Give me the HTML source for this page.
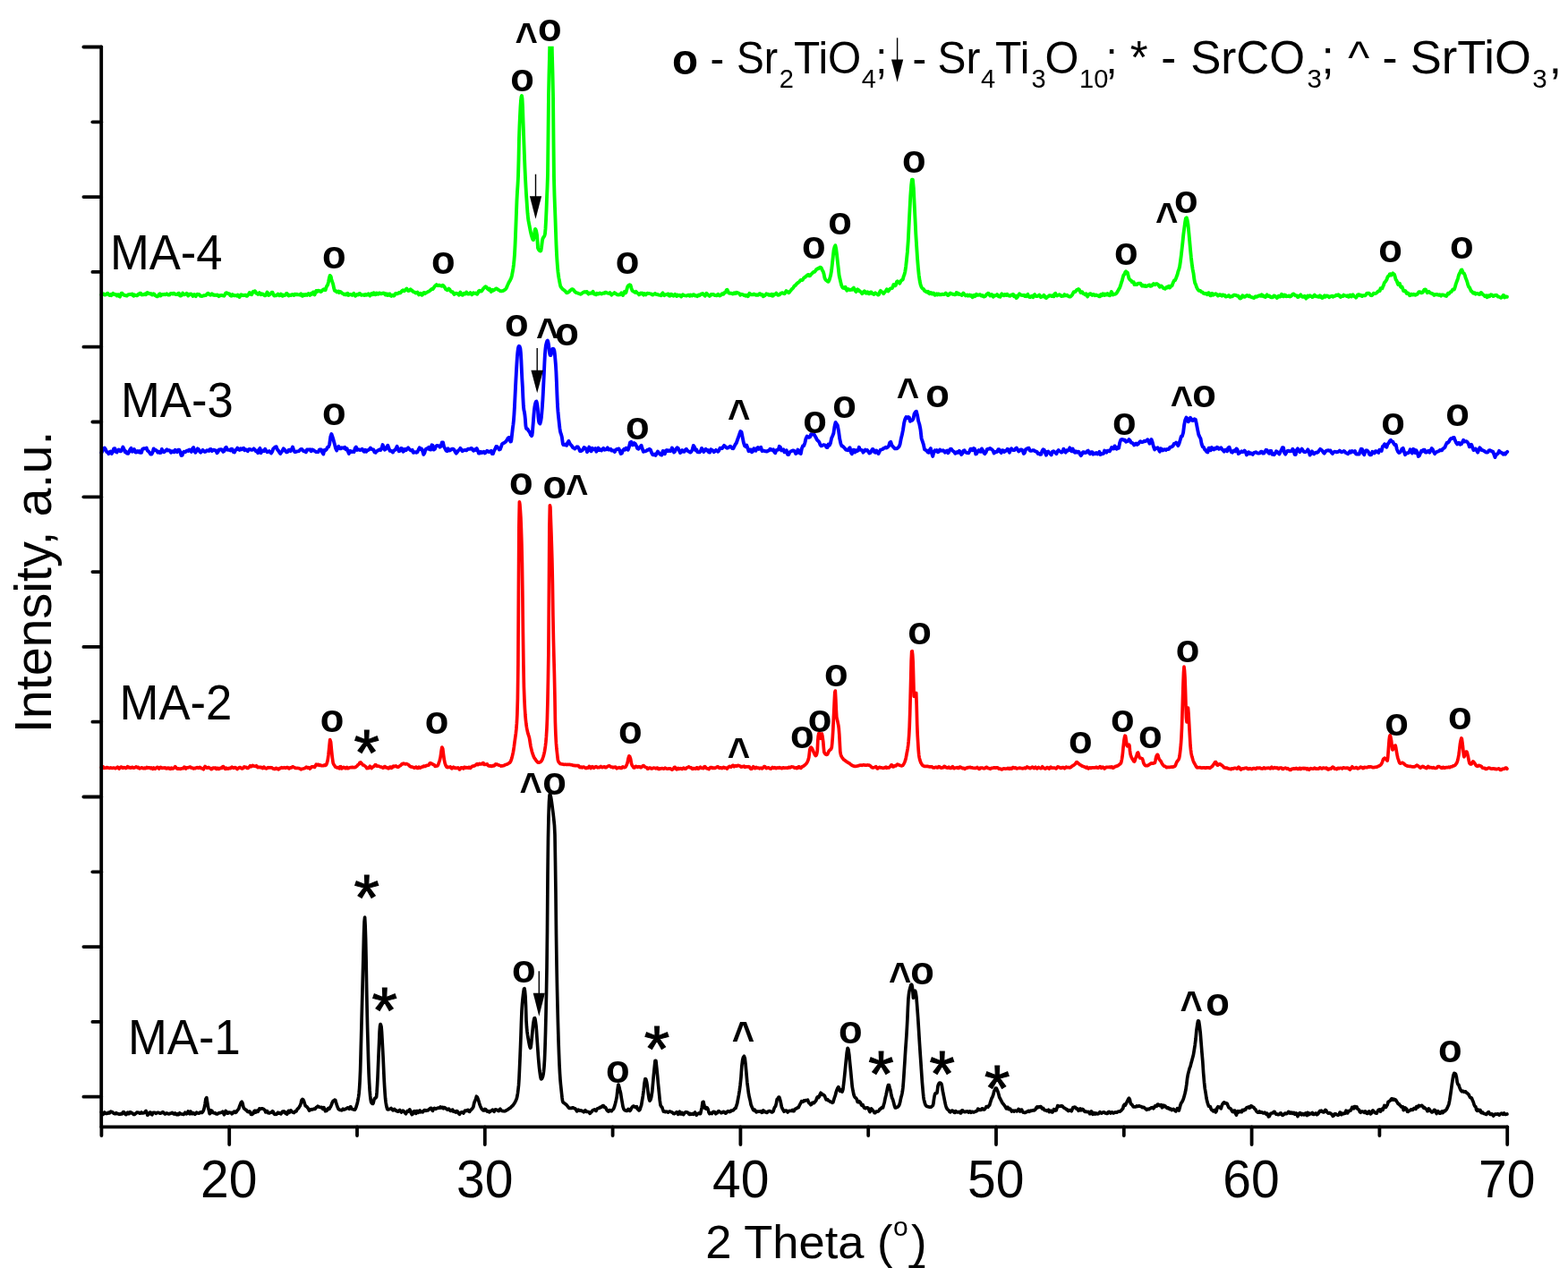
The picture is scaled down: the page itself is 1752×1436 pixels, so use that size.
<!DOCTYPE html>
<html lang="en"><head><meta charset="utf-8"><title>XRD patterns MA-1 to MA-4</title>
<style>html,body{margin:0;padding:0;background:#fff}body{width:1752px;height:1436px;overflow:hidden}svg{display:block}text{font-family:"Liberation Sans",sans-serif;fill:#000}</style></head>
<body>
<svg width="1752" height="1436" viewBox="0 0 1752 1436">
<rect width="1752" height="1436" fill="#fff"/>
<defs><clipPath id="plotclip"><rect x="100" y="51.7" width="1600" height="1300"/></clipPath></defs>
<path d="M113.4,1242.8 L114.3,1244.1 L115.1,1245.4 L116.0,1244.1 L116.8,1243.0 L117.7,1243.5 L118.5,1244.4 L119.4,1244.3 L120.3,1244.2 L121.1,1243.3 L122.0,1244.0 L122.8,1243.6 L123.7,1242.1 L124.5,1242.6 L125.4,1242.6 L126.3,1243.5 L127.1,1244.3 L128.0,1244.6 L128.8,1244.7 L129.7,1243.7 L130.5,1244.1 L131.4,1244.7 L132.2,1244.6 L133.1,1245.1 L134.0,1245.2 L134.8,1244.6 L135.7,1245.0 L136.5,1244.7 L137.4,1242.9 L138.2,1242.6 L139.1,1244.0 L140.0,1245.2 L140.8,1245.6 L141.7,1243.8 L142.5,1243.2 L143.4,1244.7 L144.2,1244.7 L145.1,1242.8 L146.0,1242.9 L146.8,1244.0 L147.7,1243.8 L148.5,1244.4 L149.4,1245.4 L150.2,1245.5 L151.1,1244.7 L152.0,1244.0 L152.8,1243.2 L153.7,1243.1 L154.5,1243.5 L155.4,1243.4 L156.2,1244.2 L157.1,1243.9 L158.0,1243.0 L158.8,1244.0 L159.7,1244.0 L160.5,1243.8 L161.4,1243.3 L162.2,1242.3 L163.1,1241.5 L164.0,1243.5 L164.8,1246.2 L165.7,1245.5 L166.5,1244.3 L167.4,1243.2 L168.2,1243.1 L169.1,1245.2 L169.9,1245.7 L170.8,1243.6 L171.7,1243.3 L172.5,1243.3 L173.4,1243.6 L174.2,1244.3 L175.1,1243.9 L175.9,1243.3 L176.8,1243.3 L177.7,1243.5 L178.5,1244.1 L179.4,1244.2 L180.2,1243.7 L181.1,1243.3 L181.9,1242.6 L182.8,1243.3 L183.7,1244.4 L184.5,1245.0 L185.4,1244.5 L186.2,1243.9 L187.1,1244.5 L187.9,1244.6 L188.8,1244.9 L189.7,1244.4 L190.5,1244.3 L191.4,1244.0 L192.2,1243.3 L193.1,1243.8 L193.9,1244.8 L194.8,1245.1 L195.7,1243.9 L196.5,1244.8 L197.4,1245.6 L198.2,1244.8 L199.1,1245.7 L199.9,1245.5 L200.8,1243.8 L201.7,1244.6 L202.5,1244.9 L203.4,1245.0 L204.2,1245.2 L205.1,1245.4 L205.9,1244.6 L206.8,1243.3 L207.6,1244.0 L208.5,1244.8 L209.4,1243.9 L210.2,1241.9 L211.1,1244.2 L211.9,1244.7 L212.8,1242.1 L213.6,1242.7 L214.5,1244.7 L215.4,1244.4 L216.2,1243.7 L217.1,1244.7 L217.9,1245.3 L218.8,1244.4 L219.6,1243.1 L220.5,1243.8 L221.4,1243.8 L222.2,1244.2 L223.1,1243.7 L223.9,1242.9 L224.8,1243.5 L225.6,1243.5 L226.5,1242.5 L227.4,1240.9 L228.2,1238.4 L229.1,1233.8 L229.9,1228.2 L230.8,1226.6 L231.6,1231.5 L232.5,1237.2 L233.4,1240.9 L234.2,1244.6 L235.1,1244.0 L235.9,1241.0 L236.8,1241.4 L237.6,1243.1 L238.5,1243.6 L239.3,1243.8 L240.2,1243.7 L241.1,1244.5 L241.9,1244.9 L242.8,1244.9 L243.6,1244.3 L244.5,1243.9 L245.3,1243.6 L246.2,1243.6 L247.1,1243.3 L247.9,1243.1 L248.8,1242.2 L249.6,1243.8 L250.5,1245.7 L251.3,1243.9 L252.2,1241.5 L253.1,1242.3 L253.9,1244.1 L254.8,1244.2 L255.6,1243.1 L256.5,1243.2 L257.3,1243.5 L258.2,1243.4 L259.1,1244.8 L259.9,1244.1 L260.8,1242.8 L261.6,1242.0 L262.5,1242.2 L263.3,1243.3 L264.2,1242.5 L265.1,1241.1 L265.9,1240.2 L266.8,1239.0 L267.6,1236.4 L268.5,1234.1 L269.3,1232.1 L270.2,1231.2 L271.1,1233.1 L271.9,1237.0 L272.8,1238.9 L273.6,1239.3 L274.5,1240.3 L275.3,1240.6 L276.2,1241.9 L277.0,1242.4 L277.9,1242.6 L278.8,1242.0 L279.6,1242.6 L280.5,1245.3 L281.3,1245.5 L282.2,1244.7 L283.0,1244.4 L283.9,1242.0 L284.8,1241.2 L285.6,1243.2 L286.5,1242.0 L287.3,1241.1 L288.2,1242.3 L289.0,1240.8 L289.9,1238.9 L290.8,1239.5 L291.6,1239.0 L292.5,1238.8 L293.3,1238.9 L294.2,1239.2 L295.0,1239.8 L295.9,1240.6 L296.8,1242.9 L297.6,1241.6 L298.5,1241.5 L299.3,1243.6 L300.2,1243.8 L301.0,1243.9 L301.9,1243.3 L302.8,1243.2 L303.6,1243.0 L304.5,1241.8 L305.3,1242.5 L306.2,1244.7 L307.0,1245.4 L307.9,1245.0 L308.8,1245.3 L309.6,1244.2 L310.5,1243.3 L311.3,1244.1 L312.2,1243.7 L313.0,1244.4 L313.9,1244.8 L314.7,1243.3 L315.6,1242.2 L316.5,1242.9 L317.3,1241.9 L318.2,1242.7 L319.0,1244.2 L319.9,1243.3 L320.7,1245.1 L321.6,1243.5 L322.5,1241.3 L323.3,1243.3 L324.2,1242.1 L325.0,1240.9 L325.9,1242.1 L326.7,1242.8 L327.6,1242.9 L328.5,1243.5 L329.3,1242.7 L330.2,1241.6 L331.0,1241.8 L331.9,1240.0 L332.7,1239.0 L333.6,1238.4 L334.5,1236.8 L335.3,1235.6 L336.2,1233.0 L337.0,1229.5 L337.9,1228.5 L338.7,1228.9 L339.6,1230.7 L340.5,1233.6 L341.3,1235.9 L342.2,1236.3 L343.0,1237.0 L343.9,1238.1 L344.7,1239.3 L345.6,1241.1 L346.4,1240.7 L347.3,1239.8 L348.2,1239.7 L349.0,1239.9 L349.9,1239.6 L350.7,1239.2 L351.6,1239.5 L352.4,1238.9 L353.3,1237.6 L354.2,1237.0 L355.0,1236.2 L355.9,1236.6 L356.7,1237.2 L357.6,1237.4 L358.4,1237.5 L359.3,1237.3 L360.2,1238.8 L361.0,1239.4 L361.9,1237.7 L362.7,1239.5 L363.6,1241.7 L364.4,1241.5 L365.3,1241.1 L366.2,1239.1 L367.0,1238.4 L367.9,1239.3 L368.7,1237.8 L369.6,1236.4 L370.4,1234.5 L371.3,1232.0 L372.2,1230.3 L373.0,1230.2 L373.9,1229.2 L374.7,1229.3 L375.6,1232.7 L376.4,1235.0 L377.3,1237.5 L378.2,1239.4 L379.0,1239.9 L379.9,1240.5 L380.7,1240.5 L381.6,1240.8 L382.4,1240.6 L383.3,1239.2 L384.1,1240.0 L385.0,1239.9 L385.9,1239.3 L386.7,1239.1 L387.6,1238.4 L388.4,1238.0 L389.3,1238.8 L390.1,1239.3 L391.0,1237.1 L391.9,1236.9 L392.6,1238.8 L393.1,1239.2 L393.6,1239.3 L394.1,1239.6 L394.6,1239.8 L395.1,1239.9 L395.6,1240.1 L396.1,1240.1 L396.6,1240.1 L397.1,1239.2 L397.6,1238.1 L398.1,1236.6 L398.6,1234.9 L399.1,1233.2 L399.6,1231.1 L400.1,1228.7 L400.6,1225.8 L401.1,1222.0 L401.6,1216.3 L402.1,1207.9 L402.6,1196.6 L403.1,1178.4 L403.6,1159.2 L404.1,1139.6 L404.6,1120.3 L405.1,1101.0 L405.6,1081.6 L406.1,1062.4 L406.6,1042.1 L407.1,1029.6 L407.6,1025.2 L408.1,1033.9 L408.6,1049.1 L409.1,1072.8 L409.6,1102.3 L410.1,1127.5 L410.6,1148.7 L411.1,1167.0 L411.6,1184.7 L412.1,1199.4 L412.6,1209.9 L413.1,1218.2 L413.6,1224.2 L414.1,1228.4 L414.6,1231.4 L415.1,1232.4 L415.6,1232.9 L416.1,1233.4 L416.6,1233.5 L417.1,1232.7 L417.6,1230.5 L418.1,1228.5 L418.6,1227.5 L419.1,1227.2 L419.6,1227.0 L420.1,1226.6 L420.6,1225.8 L421.1,1220.4 L421.6,1212.1 L422.1,1201.9 L422.6,1189.4 L423.1,1177.3 L423.6,1165.7 L424.1,1152.9 L424.6,1146.4 L425.1,1144.6 L425.6,1145.6 L426.1,1147.7 L426.6,1154.0 L427.1,1163.2 L427.6,1172.3 L428.1,1182.0 L428.6,1193.0 L429.1,1204.7 L429.6,1213.6 L430.1,1221.4 L430.6,1227.8 L431.1,1232.0 L431.6,1235.0 L432.1,1237.3 L432.6,1239.1 L433.1,1239.8 L433.6,1239.9 L434.1,1239.9 L434.6,1239.7 L435.1,1239.4 L435.6,1239.3 L436.1,1239.1 L436.6,1238.9 L437.1,1238.5 L437.3,1238.8 L438.1,1239.8 L439.0,1240.8 L439.8,1239.7 L440.7,1239.4 L441.6,1240.6 L442.4,1241.3 L443.3,1241.2 L444.1,1242.2 L445.0,1242.2 L445.8,1241.1 L446.7,1240.4 L447.6,1241.4 L448.4,1243.0 L449.3,1242.0 L450.1,1241.2 L451.0,1241.7 L451.8,1242.7 L452.7,1243.9 L453.5,1244.7 L454.4,1243.0 L455.3,1241.5 L456.1,1242.1 L457.0,1241.5 L457.8,1239.9 L458.7,1241.4 L459.5,1244.3 L460.4,1245.6 L461.3,1244.5 L462.1,1242.4 L463.0,1241.6 L463.8,1243.9 L464.7,1244.3 L465.5,1241.5 L466.4,1241.6 L467.3,1243.3 L468.1,1241.5 L469.0,1241.0 L469.8,1242.8 L470.7,1242.6 L471.5,1242.2 L472.4,1242.8 L473.3,1241.7 L474.1,1240.6 L475.0,1240.7 L475.8,1241.3 L476.7,1240.9 L477.5,1240.7 L478.4,1240.8 L479.3,1239.8 L480.1,1239.2 L481.0,1238.3 L481.8,1238.3 L482.7,1240.4 L483.5,1241.4 L484.4,1239.2 L485.3,1238.4 L486.1,1238.9 L487.0,1239.3 L487.8,1238.8 L488.7,1238.4 L489.5,1238.1 L490.4,1238.1 L491.2,1238.1 L492.1,1236.9 L493.0,1238.0 L493.8,1237.4 L494.7,1237.4 L495.5,1238.7 L496.4,1237.7 L497.2,1237.8 L498.1,1239.0 L499.0,1239.1 L499.8,1240.1 L500.7,1239.6 L501.5,1239.1 L502.4,1240.3 L503.2,1241.3 L504.1,1241.3 L505.0,1240.3 L505.8,1240.2 L506.7,1242.1 L507.5,1242.3 L508.4,1242.2 L509.2,1243.0 L510.1,1241.6 L511.0,1241.8 L511.8,1243.5 L512.7,1244.5 L513.5,1245.3 L514.4,1243.5 L515.2,1243.1 L516.1,1242.9 L517.0,1243.1 L517.8,1244.0 L518.7,1242.7 L519.5,1241.2 L520.4,1241.2 L521.2,1241.4 L522.1,1240.5 L523.0,1240.4 L523.8,1242.0 L524.7,1242.4 L525.5,1240.9 L526.4,1240.2 L527.2,1239.4 L528.1,1238.3 L528.9,1236.8 L529.8,1232.5 L530.7,1230.3 L531.5,1228.5 L532.4,1225.2 L533.2,1226.0 L534.1,1228.2 L534.9,1230.5 L535.8,1233.9 L536.7,1236.2 L537.5,1237.9 L538.4,1239.5 L539.2,1240.3 L540.1,1241.0 L540.9,1241.0 L541.8,1239.4 L542.7,1239.7 L543.5,1241.0 L544.4,1242.1 L545.2,1241.8 L546.1,1241.7 L546.9,1242.8 L547.8,1242.1 L548.7,1241.2 L549.5,1241.0 L550.4,1240.2 L551.2,1241.4 L552.1,1242.2 L552.9,1240.4 L553.8,1239.8 L554.7,1240.5 L555.5,1240.3 L556.4,1241.3 L557.2,1241.6 L558.1,1240.1 L558.9,1239.3 L559.8,1240.8 L560.0,1240.9 L560.5,1241.1 L561.0,1241.4 L561.5,1241.5 L562.0,1241.6 L562.5,1241.7 L563.0,1241.7 L563.5,1241.7 L564.0,1241.8 L564.5,1241.6 L565.0,1241.4 L565.5,1241.0 L566.0,1240.8 L566.5,1240.5 L567.0,1240.2 L567.5,1239.8 L568.0,1239.5 L568.5,1239.1 L569.0,1238.7 L569.5,1238.4 L570.0,1238.2 L570.5,1237.8 L571.0,1237.2 L571.5,1236.6 L572.0,1236.2 L572.5,1235.9 L573.0,1235.4 L573.5,1234.7 L574.0,1234.1 L574.5,1233.3 L575.0,1232.5 L575.5,1231.6 L576.0,1230.7 L576.5,1229.7 L577.0,1228.4 L577.5,1226.9 L578.0,1224.5 L578.5,1221.5 L579.0,1217.5 L579.5,1212.9 L580.0,1205.3 L580.5,1194.5 L581.0,1182.9 L581.5,1170.7 L582.0,1157.4 L582.5,1142.3 L583.0,1129.4 L583.5,1121.9 L584.0,1116.4 L584.5,1112.0 L585.0,1108.1 L585.5,1105.0 L586.0,1104.7 L586.5,1107.6 L587.0,1113.1 L587.5,1124.2 L588.0,1140.1 L588.5,1148.0 L589.0,1152.9 L589.5,1156.6 L590.0,1159.7 L590.5,1162.5 L591.0,1165.2 L591.5,1167.7 L592.0,1169.8 L592.5,1171.1 L593.0,1170.8 L593.5,1167.5 L594.0,1162.4 L594.5,1157.3 L595.0,1152.1 L595.5,1146.8 L596.0,1142.9 L596.5,1140.0 L597.0,1137.8 L597.5,1137.7 L598.0,1139.2 L598.5,1142.6 L599.0,1146.2 L599.5,1152.1 L600.0,1159.8 L600.5,1167.2 L601.0,1174.6 L601.5,1181.7 L602.0,1187.7 L602.5,1192.7 L603.0,1197.1 L603.5,1200.7 L604.0,1203.9 L604.5,1205.8 L605.0,1205.8 L605.5,1205.4 L606.0,1204.3 L606.5,1203.0 L607.0,1200.9 L607.5,1197.3 L608.0,1192.1 L608.5,1184.0 L609.0,1171.2 L609.5,1154.6 L610.0,1133.7 L610.5,1109.9 L611.0,1081.1 L611.5,1040.0 L612.0,977.0 L612.5,936.3 L613.0,911.8 L613.5,896.7 L614.0,889.0 L614.5,887.2 L615.0,888.6 L615.5,890.6 L616.0,893.5 L616.5,897.1 L617.0,900.8 L617.5,904.7 L618.0,908.6 L618.5,912.8 L619.0,917.5 L619.5,922.4 L620.0,933.0 L620.5,963.7 L621.0,999.3 L621.5,1044.2 L622.0,1078.0 L622.5,1103.7 L623.0,1125.5 L623.5,1145.4 L624.0,1162.6 L624.5,1176.9 L625.0,1189.3 L625.5,1199.2 L626.0,1206.5 L626.5,1212.1 L627.0,1216.9 L627.5,1221.6 L628.0,1226.3 L628.5,1229.9 L629.0,1231.6 L629.5,1232.1 L630.0,1232.4 L630.5,1232.8 L631.0,1233.1 L631.5,1233.6 L632.0,1233.9 L632.5,1234.3 L633.0,1234.7 L633.5,1235.3 L634.0,1236.0 L634.5,1236.7 L635.0,1237.3 L635.5,1238.0 L636.0,1238.4 L636.5,1238.5 L637.0,1238.4 L637.5,1238.4 L638.0,1238.3 L638.5,1238.4 L639.0,1238.1 L639.5,1238.0 L640.0,1237.8 L640.3,1237.8 L641.2,1238.4 L642.0,1238.8 L642.9,1239.1 L643.8,1240.4 L644.6,1241.9 L645.5,1240.6 L646.3,1240.1 L647.2,1240.9 L648.0,1241.2 L648.9,1240.9 L649.8,1241.4 L650.6,1241.6 L651.5,1241.9 L652.3,1242.7 L653.2,1241.6 L654.0,1240.8 L654.9,1242.3 L655.8,1242.4 L656.6,1242.4 L657.5,1242.5 L658.3,1243.1 L659.2,1244.3 L660.0,1243.3 L660.9,1242.7 L661.8,1241.3 L662.6,1240.5 L663.5,1240.3 L664.3,1239.9 L665.2,1240.9 L666.0,1241.4 L666.9,1239.7 L667.7,1238.7 L668.6,1238.5 L669.5,1238.4 L670.3,1237.3 L671.2,1237.6 L672.0,1237.3 L672.9,1236.0 L673.7,1235.5 L674.6,1235.9 L675.5,1237.5 L676.3,1237.3 L677.2,1238.7 L678.0,1240.3 L678.9,1241.5 L679.7,1242.1 L680.6,1240.7 L681.5,1240.5 L682.3,1241.5 L683.2,1241.7 L684.0,1240.5 L684.9,1240.0 L685.7,1238.9 L686.6,1236.5 L687.5,1233.2 L688.3,1229.9 L689.2,1225.6 L690.0,1218.0 L690.9,1212.0 L691.7,1214.1 L692.6,1218.0 L693.5,1221.5 L694.3,1226.7 L695.2,1231.8 L696.0,1236.5 L696.9,1239.3 L697.7,1240.3 L698.6,1240.9 L699.5,1241.1 L700.3,1241.4 L701.2,1240.4 L702.0,1239.5 L702.9,1240.6 L703.7,1241.3 L704.6,1240.5 L705.4,1238.6 L706.3,1237.3 L707.2,1236.4 L708.0,1236.0 L708.9,1236.7 L709.7,1237.4 L710.6,1236.9 L711.4,1236.7 L712.3,1239.3 L713.2,1240.0 L714.0,1240.9 L714.9,1240.3 L715.7,1237.6 L716.6,1235.2 L717.4,1230.4 L718.3,1225.1 L719.2,1218.4 L720.0,1210.5 L720.9,1205.5 L721.7,1206.1 L722.6,1209.2 L723.4,1214.6 L724.3,1222.1 L725.2,1227.8 L726.0,1230.2 L726.9,1229.0 L727.7,1226.3 L728.6,1220.8 L729.4,1212.3 L730.3,1202.2 L731.2,1193.3 L732.0,1185.4 L732.9,1185.4 L733.7,1192.9 L734.6,1201.8 L735.4,1210.9 L736.3,1219.7 L737.2,1229.2 L738.0,1235.0 L738.9,1236.6 L739.7,1237.4 L740.6,1240.0 L741.4,1242.2 L742.3,1241.9 L743.1,1242.6 L744.0,1242.4 L744.9,1242.2 L745.7,1242.6 L746.6,1243.1 L747.4,1242.4 L748.3,1242.0 L749.1,1242.2 L750.0,1242.6 L750.9,1243.1 L751.7,1243.4 L752.6,1244.5 L753.4,1244.6 L754.3,1244.0 L755.1,1243.7 L756.0,1242.7 L756.9,1243.4 L757.7,1245.3 L758.6,1243.3 L759.4,1242.2 L760.3,1244.8 L761.1,1244.8 L762.0,1243.4 L762.9,1245.2 L763.7,1245.6 L764.6,1244.1 L765.4,1243.3 L766.3,1242.6 L767.1,1243.0 L768.0,1243.1 L768.9,1243.4 L769.7,1244.9 L770.6,1245.4 L771.4,1244.5 L772.3,1245.2 L773.1,1245.1 L774.0,1244.4 L774.8,1245.2 L775.7,1244.2 L776.6,1243.0 L777.4,1244.8 L778.3,1246.2 L779.1,1244.8 L780.0,1244.6 L780.8,1243.9 L781.7,1244.7 L782.6,1244.6 L783.4,1241.2 L784.3,1237.3 L785.1,1231.7 L786.0,1231.3 L786.8,1235.3 L787.7,1238.5 L788.6,1239.0 L789.4,1237.6 L790.3,1238.1 L791.1,1239.6 L792.0,1243.1 L792.8,1244.6 L793.7,1243.8 L794.6,1243.9 L795.4,1244.5 L796.3,1243.0 L797.1,1242.3 L798.0,1242.5 L798.8,1242.9 L799.7,1244.7 L800.6,1244.0 L801.4,1243.8 L802.3,1242.2 L803.1,1241.6 L804.0,1242.5 L804.8,1242.7 L805.7,1243.6 L806.6,1243.6 L807.4,1243.0 L808.3,1242.4 L809.1,1242.6 L810.0,1243.6 L810.8,1244.1 L811.7,1243.6 L812.5,1242.3 L813.4,1241.7 L814.3,1242.0 L815.1,1242.6 L816.0,1242.3 L816.8,1241.2 L817.7,1241.1 L818.5,1241.0 L819.4,1240.7 L820.3,1239.5 L821.1,1238.8 L822.0,1238.4 L822.8,1235.9 L823.7,1233.1 L824.5,1228.8 L825.4,1224.0 L826.3,1218.5 L827.1,1212.4 L828.0,1203.6 L828.8,1191.8 L829.7,1184.5 L830.5,1181.5 L831.4,1180.3 L832.3,1182.7 L833.1,1189.6 L834.0,1199.6 L834.8,1209.2 L835.7,1216.3 L836.5,1222.4 L837.4,1226.8 L838.3,1230.4 L839.1,1234.6 L840.0,1236.7 L840.8,1238.5 L841.7,1240.6 L842.5,1240.9 L843.4,1240.3 L844.3,1241.8 L845.1,1242.8 L846.0,1242.4 L846.8,1242.1 L847.7,1242.1 L848.5,1242.1 L849.4,1242.0 L850.2,1241.8 L851.1,1243.3 L852.0,1243.0 L852.8,1240.8 L853.7,1242.0 L854.5,1242.6 L855.4,1242.3 L856.2,1243.2 L857.1,1243.4 L858.0,1242.2 L858.8,1241.8 L859.7,1241.6 L860.5,1241.8 L861.4,1242.4 L862.2,1242.8 L863.1,1242.8 L864.0,1241.9 L864.8,1239.3 L865.7,1237.1 L866.5,1236.4 L867.4,1232.9 L868.2,1228.5 L869.1,1227.8 L870.0,1226.1 L870.8,1226.2 L871.7,1229.2 L872.5,1232.6 L873.4,1237.2 L874.2,1238.9 L875.1,1240.5 L876.0,1242.2 L876.8,1241.6 L877.7,1241.1 L878.5,1241.0 L879.4,1241.7 L880.2,1243.0 L881.1,1241.7 L881.9,1241.4 L882.8,1241.5 L883.7,1241.4 L884.5,1241.5 L885.4,1240.4 L886.2,1241.6 L887.1,1241.7 L887.9,1239.9 L888.8,1239.0 L889.7,1238.9 L890.5,1238.4 L891.4,1237.6 L892.2,1237.7 L893.1,1235.6 L893.9,1234.0 L894.8,1232.6 L895.7,1230.6 L896.5,1231.3 L897.4,1231.1 L898.2,1230.0 L899.1,1230.3 L899.9,1229.6 L900.8,1229.7 L901.7,1229.5 L902.5,1229.2 L903.4,1231.7 L904.2,1232.9 L905.1,1233.0 L905.9,1234.7 L906.8,1234.0 L907.7,1232.4 L908.5,1232.2 L909.4,1232.7 L910.2,1231.8 L911.1,1230.8 L911.9,1229.6 L912.8,1226.8 L913.7,1225.8 L914.5,1226.6 L915.4,1225.6 L916.2,1223.0 L917.1,1221.3 L917.9,1222.1 L918.8,1223.3 L919.6,1223.1 L920.5,1223.8 L921.4,1224.6 L922.2,1226.7 L923.1,1228.8 L923.9,1228.5 L924.8,1228.8 L925.6,1230.0 L926.5,1230.2 L927.4,1230.8 L928.2,1231.5 L929.1,1231.5 L929.9,1232.3 L930.8,1231.9 L931.6,1229.3 L932.5,1226.3 L933.4,1223.9 L934.2,1220.5 L935.1,1217.9 L935.9,1216.1 L936.8,1214.7 L937.6,1216.2 L938.5,1219.3 L939.4,1219.2 L940.2,1217.9 L941.1,1220.0 L941.9,1217.5 L942.8,1210.1 L943.6,1202.7 L944.5,1193.6 L945.4,1184.5 L946.2,1176.6 L947.1,1171.4 L947.9,1172.5 L948.8,1178.7 L949.6,1187.4 L950.5,1196.3 L951.4,1205.7 L952.2,1214.1 L953.1,1219.2 L953.9,1223.0 L954.8,1225.5 L955.6,1226.6 L956.5,1227.1 L957.3,1228.5 L958.2,1231.5 L959.1,1231.8 L959.9,1230.6 L960.8,1231.4 L961.6,1232.4 L962.5,1234.9 L963.3,1235.4 L964.2,1234.8 L965.1,1237.1 L965.9,1238.3 L966.8,1238.6 L967.6,1238.4 L968.5,1237.9 L969.3,1237.8 L970.2,1238.3 L971.1,1240.8 L971.9,1242.5 L972.8,1241.0 L973.6,1239.0 L974.5,1240.1 L975.3,1240.9 L976.2,1241.9 L977.1,1243.7 L977.9,1243.6 L978.8,1242.4 L979.6,1242.0 L980.5,1242.1 L981.3,1241.9 L982.2,1241.0 L983.1,1239.4 L983.9,1239.3 L984.8,1238.1 L985.6,1237.6 L986.5,1237.9 L987.3,1235.0 L988.2,1231.9 L989.0,1227.8 L989.9,1224.1 L990.8,1220.0 L991.6,1215.8 L992.5,1212.5 L993.3,1212.5 L994.2,1216.0 L995.0,1218.6 L995.9,1223.8 L996.8,1227.2 L997.6,1228.7 L998.5,1231.9 L999.3,1235.4 L1000.2,1237.9 L1000.4,1238.0 L1000.9,1237.9 L1001.4,1237.6 L1001.9,1237.6 L1002.4,1237.4 L1002.9,1237.3 L1003.4,1236.8 L1003.9,1236.3 L1004.4,1235.4 L1004.9,1234.6 L1005.4,1232.8 L1005.9,1230.7 L1006.4,1228.1 L1006.9,1226.0 L1007.4,1224.2 L1007.9,1222.1 L1008.4,1219.4 L1008.9,1215.5 L1009.4,1209.6 L1009.9,1202.3 L1010.4,1194.7 L1010.9,1187.1 L1011.4,1178.8 L1011.9,1171.2 L1012.4,1164.4 L1012.9,1156.9 L1013.4,1148.2 L1013.9,1138.5 L1014.4,1126.3 L1014.9,1116.6 L1015.4,1111.6 L1015.9,1108.1 L1016.4,1105.9 L1016.9,1104.0 L1017.4,1102.3 L1017.9,1100.6 L1018.4,1100.1 L1018.9,1100.7 L1019.4,1103.6 L1019.9,1107.7 L1020.4,1115.2 L1020.9,1113.4 L1021.4,1108.6 L1021.9,1107.6 L1022.4,1107.1 L1022.9,1108.2 L1023.4,1110.4 L1023.9,1113.9 L1024.4,1120.2 L1024.9,1126.6 L1025.4,1133.4 L1025.9,1140.5 L1026.4,1148.6 L1026.9,1156.9 L1027.4,1165.0 L1027.9,1172.6 L1028.4,1180.2 L1028.9,1187.2 L1029.4,1194.7 L1029.9,1202.2 L1030.4,1209.5 L1030.9,1215.4 L1031.4,1221.1 L1031.9,1226.0 L1032.4,1229.1 L1032.9,1231.1 L1033.4,1232.9 L1033.9,1234.3 L1034.4,1235.2 L1034.9,1235.8 L1035.4,1236.2 L1035.9,1236.5 L1036.4,1236.6 L1036.9,1236.7 L1037.4,1236.9 L1037.9,1237.0 L1038.4,1237.1 L1038.9,1237.0 L1039.4,1237.2 L1039.9,1237.2 L1040.4,1237.0 L1040.9,1236.8 L1041.4,1236.3 L1041.9,1235.8 L1042.4,1235.3 L1042.9,1233.3 L1043.4,1229.2 L1043.9,1226.0 L1044.4,1223.5 L1044.9,1222.0 L1045.4,1221.7 L1045.9,1221.7 L1046.4,1221.7 L1046.9,1221.4 L1047.4,1218.6 L1047.9,1214.1 L1048.4,1212.3 L1048.9,1211.2 L1049.4,1210.3 L1049.9,1210.0 L1050.4,1210.0 L1050.9,1210.3 L1051.4,1210.7 L1051.9,1211.2 L1052.4,1213.4 L1052.9,1216.5 L1053.4,1219.4 L1053.9,1221.9 L1054.4,1224.5 L1054.9,1226.9 L1055.4,1229.5 L1055.9,1231.9 L1056.4,1234.2 L1056.9,1236.0 L1057.4,1237.6 L1057.9,1238.6 L1058.4,1239.4 L1058.9,1239.9 L1059.4,1240.3 L1059.9,1240.7 L1060.4,1241.1 L1061.0,1242.4 L1061.9,1242.9 L1062.7,1241.9 L1063.6,1241.0 L1064.4,1241.3 L1065.3,1241.9 L1066.2,1243.3 L1067.0,1243.5 L1067.9,1241.6 L1068.7,1242.5 L1069.6,1243.0 L1070.4,1242.9 L1071.3,1242.5 L1072.2,1242.4 L1073.0,1243.8 L1073.9,1243.8 L1074.7,1241.1 L1075.6,1240.8 L1076.4,1242.2 L1077.3,1242.4 L1078.2,1242.6 L1079.0,1242.2 L1079.9,1242.4 L1080.7,1241.9 L1081.6,1242.3 L1082.4,1243.0 L1083.3,1241.9 L1084.2,1242.0 L1085.0,1243.2 L1085.9,1242.5 L1086.7,1242.3 L1087.6,1242.9 L1088.4,1242.8 L1089.3,1242.4 L1090.2,1241.9 L1091.0,1241.9 L1091.9,1241.1 L1092.7,1239.2 L1093.6,1239.7 L1094.4,1240.5 L1095.3,1240.4 L1096.1,1240.4 L1097.0,1239.1 L1097.9,1238.8 L1098.7,1239.9 L1099.6,1240.0 L1100.4,1239.3 L1101.3,1238.2 L1102.1,1236.5 L1103.0,1236.7 L1103.9,1237.1 L1104.7,1235.9 L1105.6,1235.3 L1106.4,1232.4 L1107.3,1229.6 L1108.1,1227.2 L1109.0,1225.7 L1109.9,1223.2 L1110.7,1219.6 L1111.6,1217.9 L1112.4,1216.1 L1113.3,1216.1 L1114.1,1217.9 L1115.0,1219.9 L1115.9,1223.0 L1116.7,1226.3 L1117.6,1227.8 L1118.4,1229.4 L1119.3,1231.1 L1120.1,1232.7 L1121.0,1233.6 L1121.9,1234.8 L1122.7,1235.9 L1123.6,1237.3 L1124.4,1238.8 L1125.3,1237.3 L1126.1,1237.3 L1127.0,1239.6 L1127.9,1239.1 L1128.7,1239.0 L1129.6,1240.8 L1130.4,1242.0 L1131.3,1241.2 L1132.1,1241.0 L1133.0,1242.1 L1133.8,1241.2 L1134.7,1241.0 L1135.6,1241.6 L1136.4,1241.9 L1137.3,1241.1 L1138.1,1239.4 L1139.0,1240.7 L1139.8,1242.0 L1140.7,1240.3 L1141.6,1240.1 L1142.4,1241.9 L1143.3,1243.1 L1144.1,1243.2 L1145.0,1243.5 L1145.8,1243.4 L1146.7,1242.6 L1147.6,1242.4 L1148.4,1241.9 L1149.3,1241.4 L1150.1,1242.3 L1151.0,1241.6 L1151.8,1241.1 L1152.7,1241.4 L1153.6,1241.0 L1154.4,1240.6 L1155.3,1241.0 L1156.1,1240.4 L1157.0,1239.7 L1157.8,1237.9 L1158.7,1236.9 L1159.6,1237.7 L1160.4,1236.9 L1161.3,1237.2 L1162.1,1236.7 L1163.0,1236.6 L1163.8,1238.2 L1164.7,1239.0 L1165.6,1238.4 L1166.4,1239.7 L1167.3,1240.7 L1168.1,1240.7 L1169.0,1240.9 L1169.8,1241.5 L1170.7,1241.0 L1171.5,1240.3 L1172.4,1242.6 L1173.3,1241.9 L1174.1,1241.3 L1175.0,1242.8 L1175.8,1243.0 L1176.7,1241.9 L1177.5,1239.6 L1178.4,1240.0 L1179.3,1241.1 L1180.1,1240.8 L1181.0,1238.2 L1181.8,1235.6 L1182.7,1236.2 L1183.5,1236.5 L1184.4,1236.0 L1185.3,1236.3 L1186.1,1235.8 L1187.0,1236.0 L1187.8,1236.9 L1188.7,1237.9 L1189.5,1238.2 L1190.4,1238.8 L1191.3,1239.7 L1192.1,1239.7 L1193.0,1240.9 L1193.8,1241.5 L1194.7,1240.9 L1195.5,1240.5 L1196.4,1241.0 L1197.3,1241.7 L1198.1,1239.5 L1199.0,1237.6 L1199.8,1237.7 L1200.7,1237.2 L1201.5,1237.4 L1202.4,1238.8 L1203.2,1238.6 L1204.1,1240.0 L1205.0,1241.2 L1205.8,1239.5 L1206.7,1239.0 L1207.5,1240.8 L1208.4,1240.6 L1209.2,1239.4 L1210.1,1239.8 L1211.0,1240.8 L1211.8,1242.2 L1212.7,1242.4 L1213.5,1242.0 L1214.4,1242.5 L1215.2,1242.7 L1216.1,1242.4 L1217.0,1242.7 L1217.8,1244.7 L1218.7,1244.5 L1219.5,1242.0 L1220.4,1243.0 L1221.2,1245.3 L1222.1,1244.6 L1223.0,1243.8 L1223.8,1245.0 L1224.7,1244.0 L1225.5,1244.3 L1226.4,1244.8 L1227.2,1244.6 L1228.1,1244.0 L1229.0,1242.6 L1229.8,1243.8 L1230.7,1244.1 L1231.5,1243.6 L1232.4,1243.1 L1233.2,1242.9 L1234.1,1243.1 L1235.0,1244.0 L1235.8,1243.9 L1236.7,1244.5 L1237.5,1244.2 L1238.4,1242.7 L1239.2,1242.3 L1240.1,1243.2 L1240.9,1244.0 L1241.8,1243.1 L1242.7,1242.9 L1243.5,1243.8 L1244.4,1243.8 L1245.2,1243.4 L1246.1,1242.8 L1246.9,1243.2 L1247.8,1243.2 L1248.7,1242.5 L1249.5,1242.2 L1250.4,1242.2 L1251.2,1242.1 L1252.1,1241.5 L1252.9,1240.8 L1253.8,1239.8 L1254.7,1238.8 L1255.5,1235.5 L1256.4,1234.2 L1257.2,1235.3 L1258.1,1233.6 L1258.9,1232.0 L1259.8,1230.2 L1260.7,1228.2 L1261.5,1227.2 L1262.4,1228.8 L1263.2,1232.8 L1264.1,1234.1 L1264.9,1234.5 L1265.8,1236.2 L1266.7,1237.0 L1267.5,1237.0 L1268.4,1236.8 L1269.2,1236.8 L1270.1,1236.0 L1270.9,1236.4 L1271.8,1236.4 L1272.7,1235.7 L1273.5,1236.2 L1274.4,1236.5 L1275.2,1236.6 L1276.1,1237.6 L1276.9,1237.5 L1277.8,1237.3 L1278.6,1237.8 L1279.5,1239.0 L1280.4,1239.0 L1281.2,1240.2 L1282.1,1239.6 L1282.9,1239.4 L1283.8,1239.7 L1284.6,1238.9 L1285.5,1238.7 L1286.4,1237.9 L1287.2,1237.7 L1288.1,1237.5 L1288.9,1238.7 L1289.8,1237.4 L1290.6,1236.0 L1291.5,1236.4 L1292.4,1236.2 L1293.2,1234.3 L1294.1,1234.2 L1294.9,1235.2 L1295.8,1235.6 L1296.6,1234.9 L1297.5,1234.7 L1298.4,1237.8 L1299.2,1235.9 L1300.1,1235.3 L1300.9,1236.7 L1301.8,1235.9 L1302.6,1236.7 L1303.5,1237.9 L1304.4,1238.5 L1305.2,1237.9 L1306.1,1238.5 L1306.9,1239.6 L1307.8,1239.1 L1308.6,1239.4 L1309.5,1240.6 L1310.3,1239.8 L1311.2,1239.4 L1312.1,1240.5 L1312.9,1241.3 L1313.8,1241.9 L1314.6,1240.5 L1315.5,1238.7 L1316.3,1240.4 L1317.2,1241.1 L1318.1,1238.2 L1318.9,1235.0 L1319.8,1232.6 L1320.6,1231.8 L1321.5,1229.9 L1322.3,1228.1 L1323.2,1224.9 L1324.1,1221.5 L1324.9,1218.0 L1325.8,1212.0 L1326.6,1205.2 L1327.5,1200.2 L1328.3,1197.1 L1329.2,1193.8 L1330.1,1191.6 L1330.9,1188.2 L1331.8,1184.9 L1332.6,1182.0 L1333.5,1178.5 L1334.3,1173.6 L1335.2,1167.8 L1336.1,1160.6 L1336.9,1151.5 L1337.8,1145.2 L1338.6,1140.9 L1339.5,1141.1 L1340.3,1146.2 L1341.2,1154.0 L1342.1,1165.4 L1342.9,1175.7 L1343.8,1186.0 L1344.6,1198.5 L1345.5,1209.2 L1346.3,1216.5 L1347.2,1221.8 L1348.0,1227.2 L1348.9,1231.3 L1349.8,1234.2 L1350.6,1236.3 L1351.5,1236.5 L1352.3,1236.6 L1353.2,1239.3 L1354.0,1240.6 L1354.9,1240.6 L1355.8,1241.8 L1356.6,1240.7 L1357.5,1240.4 L1358.3,1242.9 L1359.2,1241.6 L1360.0,1238.1 L1360.9,1236.8 L1361.8,1237.5 L1362.6,1237.2 L1363.5,1237.9 L1364.3,1238.8 L1365.2,1235.7 L1366.0,1233.8 L1366.9,1232.5 L1367.8,1231.9 L1368.6,1232.9 L1369.5,1232.7 L1370.3,1232.8 L1371.2,1233.5 L1372.0,1235.5 L1372.9,1237.6 L1373.8,1238.2 L1374.6,1238.7 L1375.5,1239.5 L1376.3,1241.1 L1377.2,1242.5 L1378.0,1242.6 L1378.9,1241.2 L1379.8,1241.2 L1380.6,1244.3 L1381.5,1246.1 L1382.3,1242.6 L1383.2,1241.6 L1384.0,1243.0 L1384.9,1242.1 L1385.7,1241.6 L1386.6,1242.6 L1387.5,1242.7 L1388.3,1240.5 L1389.2,1240.9 L1390.0,1240.8 L1390.9,1239.6 L1391.7,1240.1 L1392.6,1237.9 L1393.5,1237.6 L1394.3,1237.7 L1395.2,1236.9 L1396.0,1238.1 L1396.9,1237.7 L1397.7,1235.9 L1398.6,1236.1 L1399.5,1236.9 L1400.3,1237.2 L1401.2,1238.0 L1402.0,1239.2 L1402.9,1239.9 L1403.7,1241.6 L1404.6,1242.7 L1405.5,1243.2 L1406.3,1243.1 L1407.2,1242.0 L1408.0,1243.2 L1408.9,1243.1 L1409.7,1242.8 L1410.6,1243.4 L1411.5,1244.0 L1412.3,1244.0 L1413.2,1243.2 L1414.0,1244.0 L1414.9,1245.2 L1415.7,1244.1 L1416.6,1245.2 L1417.4,1247.9 L1418.3,1247.5 L1419.2,1245.5 L1420.0,1244.2 L1420.9,1244.0 L1421.7,1244.0 L1422.6,1243.3 L1423.4,1242.4 L1424.3,1242.6 L1425.2,1244.6 L1426.0,1245.2 L1426.9,1244.9 L1427.7,1245.6 L1428.6,1245.7 L1429.4,1245.3 L1430.3,1244.0 L1431.2,1243.9 L1432.0,1245.3 L1432.9,1246.4 L1433.7,1246.0 L1434.6,1245.3 L1435.4,1244.3 L1436.3,1244.1 L1437.2,1244.7 L1438.0,1244.5 L1438.9,1243.6 L1439.7,1242.4 L1440.6,1242.8 L1441.4,1244.1 L1442.3,1243.5 L1443.2,1243.1 L1444.0,1244.3 L1444.9,1243.9 L1445.7,1243.5 L1446.6,1245.2 L1447.4,1245.0 L1448.3,1243.9 L1449.2,1245.7 L1450.0,1247.5 L1450.9,1246.1 L1451.7,1244.1 L1452.6,1243.6 L1453.4,1245.1 L1454.3,1245.8 L1455.1,1244.5 L1456.0,1245.4 L1456.9,1245.8 L1457.7,1244.5 L1458.6,1244.0 L1459.4,1245.9 L1460.3,1246.6 L1461.1,1243.4 L1462.0,1243.9 L1462.9,1245.5 L1463.7,1244.4 L1464.6,1244.6 L1465.4,1244.5 L1466.3,1243.5 L1467.1,1245.2 L1468.0,1245.4 L1468.9,1245.1 L1469.7,1244.0 L1470.6,1244.0 L1471.4,1245.7 L1472.3,1245.1 L1473.1,1244.3 L1474.0,1242.5 L1474.9,1241.5 L1475.7,1242.1 L1476.6,1241.2 L1477.4,1241.7 L1478.3,1242.8 L1479.1,1243.0 L1480.0,1242.1 L1480.9,1240.5 L1481.7,1240.9 L1482.6,1242.7 L1483.4,1243.5 L1484.3,1244.1 L1485.1,1243.5 L1486.0,1243.7 L1486.9,1244.5 L1487.7,1244.9 L1488.6,1246.2 L1489.4,1247.3 L1490.3,1246.7 L1491.1,1245.0 L1492.0,1244.6 L1492.8,1245.1 L1493.7,1245.7 L1494.6,1246.2 L1495.4,1246.1 L1496.3,1245.3 L1497.1,1243.0 L1498.0,1243.2 L1498.8,1245.7 L1499.7,1244.7 L1500.6,1244.3 L1501.4,1244.6 L1502.3,1244.0 L1503.1,1244.1 L1504.0,1241.2 L1504.8,1241.5 L1505.7,1243.9 L1506.6,1242.4 L1507.4,1241.4 L1508.3,1241.3 L1509.1,1241.0 L1510.0,1239.5 L1510.8,1237.4 L1511.7,1237.6 L1512.6,1238.7 L1513.4,1236.5 L1514.3,1236.5 L1515.1,1237.7 L1516.0,1237.0 L1516.8,1239.1 L1517.7,1239.7 L1518.6,1240.5 L1519.4,1242.5 L1520.3,1243.2 L1521.1,1242.4 L1522.0,1242.0 L1522.8,1242.3 L1523.7,1242.7 L1524.5,1243.4 L1525.4,1241.9 L1526.3,1242.5 L1527.1,1244.3 L1528.0,1244.5 L1528.8,1242.7 L1529.7,1242.0 L1530.5,1243.1 L1531.4,1244.8 L1532.3,1244.1 L1533.1,1241.8 L1534.0,1240.9 L1534.8,1241.8 L1535.7,1243.0 L1536.5,1243.7 L1537.4,1243.9 L1538.3,1244.2 L1539.1,1242.1 L1540.0,1240.6 L1540.8,1240.0 L1541.7,1239.8 L1542.5,1242.2 L1543.4,1240.5 L1544.3,1239.3 L1545.1,1240.3 L1546.0,1237.8 L1546.8,1235.5 L1547.7,1237.3 L1548.5,1237.5 L1549.4,1235.8 L1550.3,1234.4 L1551.1,1231.3 L1552.0,1231.0 L1552.8,1230.2 L1553.7,1229.6 L1554.5,1228.2 L1555.4,1227.8 L1556.3,1229.1 L1557.1,1228.2 L1558.0,1229.1 L1558.8,1228.7 L1559.7,1229.3 L1560.5,1230.8 L1561.4,1232.1 L1562.2,1233.5 L1563.1,1233.5 L1564.0,1235.0 L1564.8,1235.5 L1565.7,1237.0 L1566.5,1237.1 L1567.4,1236.8 L1568.2,1240.6 L1569.1,1239.8 L1570.0,1237.9 L1570.8,1238.6 L1571.7,1239.3 L1572.5,1242.2 L1573.4,1242.3 L1574.2,1241.5 L1575.1,1241.1 L1576.0,1240.4 L1576.8,1239.9 L1577.7,1240.5 L1578.5,1240.3 L1579.4,1239.1 L1580.2,1238.3 L1581.1,1238.8 L1582.0,1239.3 L1582.8,1236.6 L1583.7,1236.8 L1584.5,1237.3 L1585.4,1235.4 L1586.2,1235.8 L1587.1,1236.0 L1588.0,1235.5 L1588.8,1235.3 L1589.7,1236.5 L1590.5,1238.0 L1591.4,1237.5 L1592.2,1238.3 L1593.1,1239.3 L1594.0,1239.6 L1594.8,1241.7 L1595.7,1241.4 L1596.5,1238.9 L1597.4,1239.9 L1598.2,1241.5 L1599.1,1242.0 L1599.9,1242.9 L1600.8,1242.7 L1601.7,1241.6 L1602.5,1240.3 L1603.4,1240.5 L1604.2,1242.7 L1605.1,1244.5 L1605.9,1242.9 L1606.8,1241.7 L1607.7,1243.1 L1608.5,1244.1 L1609.4,1244.2 L1610.2,1242.6 L1611.1,1241.9 L1611.9,1243.6 L1612.8,1242.8 L1613.7,1241.3 L1614.5,1241.7 L1615.4,1240.7 L1616.2,1239.9 L1617.1,1238.1 L1617.9,1236.2 L1618.8,1234.2 L1619.7,1229.8 L1620.5,1224.6 L1621.4,1218.5 L1622.2,1212.4 L1623.1,1206.5 L1623.9,1201.6 L1624.8,1199.4 L1625.7,1199.5 L1626.5,1200.3 L1627.4,1203.7 L1628.2,1209.3 L1629.1,1211.9 L1629.9,1212.4 L1630.8,1215.1 L1631.6,1217.2 L1632.5,1218.8 L1633.4,1219.8 L1634.2,1219.3 L1635.1,1219.4 L1635.9,1220.4 L1636.8,1220.0 L1637.6,1219.9 L1638.5,1221.1 L1639.4,1221.6 L1640.2,1222.5 L1641.1,1223.2 L1641.9,1225.1 L1642.8,1226.6 L1643.6,1226.5 L1644.5,1227.3 L1645.4,1229.8 L1646.2,1231.5 L1647.1,1234.5 L1647.9,1236.2 L1648.8,1236.6 L1649.6,1240.2 L1650.5,1241.2 L1651.4,1240.0 L1652.2,1241.4 L1653.1,1241.4 L1653.9,1240.4 L1654.8,1243.1 L1655.6,1243.6 L1656.5,1242.9 L1657.4,1244.1 L1658.2,1244.5 L1659.1,1244.5 L1659.9,1245.3 L1660.8,1245.5 L1661.6,1244.3 L1662.5,1243.1 L1663.4,1242.6 L1664.2,1244.1 L1665.1,1245.3 L1665.9,1245.4 L1666.8,1244.7 L1667.6,1245.3 L1668.5,1247.0 L1669.3,1246.3 L1670.2,1245.3 L1671.1,1244.9 L1671.9,1245.2 L1672.8,1245.0 L1673.6,1244.7 L1674.5,1245.6 L1675.3,1246.1 L1676.2,1244.9 L1677.1,1244.6 L1677.9,1244.1 L1678.8,1245.0 L1679.6,1245.3 L1680.5,1243.9 L1681.3,1244.7 L1682.2,1245.5 L1683.1,1245.3 L1683.9,1245.0" fill="none" stroke="#000000" stroke-width="3.7" stroke-linejoin="round" stroke-linecap="round" clip-path="url(#plotclip)"/>
<path d="M113.4,857.7 L114.3,856.5 L115.1,856.7 L116.0,858.3 L116.8,858.2 L117.7,858.0 L118.5,858.2 L119.4,857.5 L120.3,857.7 L121.1,858.1 L122.0,858.3 L122.8,858.3 L123.7,857.9 L124.5,858.3 L125.4,858.5 L126.3,858.0 L127.1,858.1 L128.0,858.3 L128.8,858.7 L129.7,858.3 L130.5,858.0 L131.4,857.2 L132.2,858.1 L133.1,859.1 L134.0,858.0 L134.8,857.3 L135.7,857.0 L136.5,858.0 L137.4,858.3 L138.2,857.7 L139.1,857.8 L140.0,857.8 L140.8,858.5 L141.7,858.0 L142.5,856.7 L143.4,857.4 L144.2,857.8 L145.1,857.5 L146.0,858.1 L146.8,858.0 L147.7,857.3 L148.5,857.5 L149.4,858.2 L150.2,858.0 L151.1,857.6 L152.0,856.8 L152.8,857.3 L153.7,857.8 L154.5,857.4 L155.4,858.5 L156.2,858.9 L157.1,858.2 L158.0,857.9 L158.8,857.9 L159.7,858.6 L160.5,858.6 L161.4,858.1 L162.2,858.7 L163.1,858.4 L164.0,857.4 L164.8,858.1 L165.7,857.9 L166.5,857.8 L167.4,858.1 L168.2,858.7 L169.1,857.9 L169.9,858.5 L170.8,859.3 L171.7,858.0 L172.5,858.7 L173.4,859.2 L174.2,858.4 L175.1,857.9 L175.9,857.3 L176.8,857.9 L177.7,859.0 L178.5,858.3 L179.4,857.3 L180.2,857.8 L181.1,858.4 L181.9,858.2 L182.8,858.1 L183.7,858.3 L184.5,857.9 L185.4,858.7 L186.2,858.9 L187.1,858.1 L187.9,858.6 L188.8,858.2 L189.7,859.1 L190.5,859.3 L191.4,858.1 L192.2,859.0 L193.1,858.9 L193.9,858.6 L194.8,857.7 L195.7,856.7 L196.5,857.6 L197.4,858.7 L198.2,859.1 L199.1,858.9 L199.9,858.9 L200.8,859.2 L201.7,859.3 L202.5,859.0 L203.4,858.7 L204.2,858.7 L205.1,858.7 L205.9,857.2 L206.8,857.5 L207.6,859.0 L208.5,858.1 L209.4,857.8 L210.2,857.9 L211.1,857.5 L211.9,857.1 L212.8,857.2 L213.6,858.1 L214.5,858.0 L215.4,858.4 L216.2,858.9 L217.1,858.3 L217.9,858.7 L218.8,858.3 L219.6,857.8 L220.5,857.7 L221.4,858.3 L222.2,858.1 L223.1,857.3 L223.9,857.7 L224.8,858.6 L225.6,858.7 L226.5,858.9 L227.4,859.8 L228.2,857.8 L229.1,856.5 L229.9,857.2 L230.8,857.9 L231.6,858.2 L232.5,857.6 L233.4,857.7 L234.2,858.2 L235.1,858.6 L235.9,859.6 L236.8,859.5 L237.6,858.3 L238.5,858.1 L239.3,858.5 L240.2,858.2 L241.1,858.2 L241.9,859.4 L242.8,858.6 L243.6,858.4 L244.5,859.4 L245.3,859.0 L246.2,858.3 L247.1,858.1 L247.9,858.4 L248.8,856.8 L249.6,856.6 L250.5,857.7 L251.3,859.0 L252.2,859.4 L253.1,858.2 L253.9,858.7 L254.8,859.1 L255.6,858.7 L256.5,858.3 L257.3,858.7 L258.2,858.0 L259.1,857.2 L259.9,857.6 L260.8,858.3 L261.6,858.2 L262.5,857.7 L263.3,857.8 L264.2,858.8 L265.1,859.5 L265.9,858.6 L266.8,858.1 L267.6,857.6 L268.5,857.7 L269.3,858.4 L270.2,858.9 L271.1,858.9 L271.9,857.8 L272.8,857.0 L273.6,857.6 L274.5,857.3 L275.3,857.6 L276.2,858.5 L277.0,858.4 L277.9,857.8 L278.8,856.7 L279.6,855.8 L280.5,856.7 L281.3,856.4 L282.2,855.3 L283.0,855.8 L283.9,856.1 L284.8,856.3 L285.6,856.5 L286.5,855.8 L287.3,857.0 L288.2,857.6 L289.0,857.2 L289.9,857.4 L290.8,857.6 L291.6,857.4 L292.5,858.0 L293.3,858.6 L294.2,857.4 L295.0,857.1 L295.9,858.4 L296.8,858.5 L297.6,858.9 L298.5,858.5 L299.3,857.7 L300.2,857.9 L301.0,857.7 L301.9,857.9 L302.8,857.7 L303.6,857.9 L304.5,858.5 L305.3,859.1 L306.2,859.2 L307.0,859.5 L307.9,858.7 L308.8,858.3 L309.6,859.1 L310.5,859.1 L311.3,859.9 L312.2,859.2 L313.0,858.3 L313.9,858.2 L314.7,857.7 L315.6,858.1 L316.5,858.2 L317.3,857.7 L318.2,858.0 L319.0,858.3 L319.9,857.8 L320.7,857.6 L321.6,857.5 L322.5,858.7 L323.3,858.9 L324.2,857.8 L325.0,857.8 L325.9,857.8 L326.7,856.9 L327.6,856.9 L328.5,857.6 L329.3,857.8 L330.2,858.3 L331.0,858.4 L331.9,858.5 L332.7,858.4 L333.6,858.5 L334.5,858.8 L335.3,859.2 L336.2,859.8 L337.0,859.4 L337.9,859.2 L338.7,859.0 L339.6,858.8 L340.5,858.5 L341.3,857.9 L342.2,857.2 L343.0,857.5 L343.9,858.1 L344.7,857.7 L345.6,858.0 L346.4,859.1 L347.3,858.1 L348.2,856.9 L349.0,857.0 L349.9,856.7 L350.7,857.1 L351.6,857.4 L352.4,855.7 L353.3,854.3 L354.2,854.9 L355.0,854.3 L355.9,854.3 L356.7,855.3 L357.6,854.8 L358.4,855.3 L359.3,855.7 L360.2,855.6 L361.0,855.7 L361.9,855.4 L362.7,854.8 L363.6,855.3 L364.4,854.9 L365.3,852.8 L366.2,849.2 L367.0,843.4 L367.9,834.6 L368.7,826.7 L369.6,829.1 L370.4,838.0 L371.3,846.6 L372.2,852.7 L373.0,854.4 L373.9,855.6 L374.7,857.1 L375.6,857.4 L376.4,857.8 L377.3,857.7 L378.2,858.2 L379.0,858.7 L379.9,856.9 L380.7,856.7 L381.6,858.9 L382.4,858.6 L383.3,857.5 L384.1,857.4 L385.0,857.7 L385.9,858.6 L386.7,858.1 L387.6,857.4 L388.4,858.7 L389.3,858.7 L390.1,858.0 L391.0,857.7 L391.9,857.5 L392.7,857.6 L393.6,857.4 L394.4,857.6 L395.3,857.7 L396.1,857.7 L397.0,857.5 L397.9,856.8 L398.7,856.3 L399.6,855.1 L400.4,854.5 L401.3,853.8 L402.1,852.2 L403.0,851.9 L403.9,852.9 L404.7,853.9 L405.6,855.0 L406.4,855.0 L407.3,855.7 L408.1,856.2 L409.0,857.1 L409.9,858.7 L410.7,858.3 L411.6,858.4 L412.4,857.5 L413.3,856.3 L414.1,858.0 L415.0,858.5 L415.9,857.7 L416.7,857.0 L417.6,856.6 L418.4,855.9 L419.3,854.7 L420.1,854.9 L421.0,856.2 L421.8,856.1 L422.7,856.1 L423.6,856.3 L424.4,856.7 L425.3,857.1 L426.1,857.1 L427.0,857.7 L427.8,858.1 L428.7,857.9 L429.6,856.7 L430.4,856.7 L431.3,858.0 L432.1,858.0 L433.0,857.9 L433.8,858.8 L434.7,858.6 L435.6,857.2 L436.4,857.2 L437.3,858.3 L438.1,857.9 L439.0,856.5 L439.8,856.1 L440.7,856.6 L441.6,856.2 L442.4,855.9 L443.3,856.6 L444.1,857.2 L445.0,857.2 L445.8,856.6 L446.7,855.9 L447.6,855.5 L448.4,854.6 L449.3,853.6 L450.1,853.8 L451.0,853.1 L451.8,853.5 L452.7,854.0 L453.5,853.6 L454.4,853.5 L455.3,854.0 L456.1,854.5 L457.0,855.2 L457.8,856.2 L458.7,856.9 L459.5,856.9 L460.4,857.1 L461.3,857.4 L462.1,857.5 L463.0,858.2 L463.8,858.0 L464.7,857.1 L465.5,857.4 L466.4,858.4 L467.3,858.3 L468.1,857.2 L469.0,857.6 L469.8,858.1 L470.7,857.4 L471.5,857.1 L472.4,857.0 L473.3,856.0 L474.1,856.1 L475.0,856.5 L475.8,855.8 L476.7,855.3 L477.5,855.4 L478.4,855.2 L479.3,854.8 L480.1,853.2 L481.0,852.7 L481.8,853.3 L482.7,853.3 L483.5,854.2 L484.4,854.7 L485.3,854.9 L486.1,856.3 L487.0,856.2 L487.8,856.0 L488.7,855.9 L489.5,854.8 L490.4,852.3 L491.2,850.0 L492.1,846.4 L493.0,839.9 L493.8,835.0 L494.7,836.6 L495.5,843.0 L496.4,849.4 L497.2,853.2 L498.1,855.5 L499.0,857.0 L499.8,857.7 L500.7,857.2 L501.5,857.5 L502.4,857.3 L503.2,856.9 L504.1,858.3 L505.0,858.8 L505.8,857.9 L506.7,857.2 L507.5,857.8 L508.4,858.4 L509.2,858.1 L510.1,858.4 L511.0,858.3 L511.8,857.8 L512.7,858.7 L513.5,859.9 L514.4,858.9 L515.2,857.9 L516.1,857.8 L517.0,858.4 L517.8,858.9 L518.7,857.3 L519.5,857.4 L520.4,858.1 L521.2,857.6 L522.1,858.0 L523.0,858.1 L523.8,857.3 L524.7,857.5 L525.5,858.4 L526.4,857.6 L527.2,856.6 L528.1,856.1 L528.9,856.1 L529.8,855.9 L530.7,855.6 L531.5,854.9 L532.4,854.0 L533.2,853.7 L534.1,854.6 L534.9,854.2 L535.8,853.4 L536.7,854.0 L537.5,853.9 L538.4,853.7 L539.2,852.8 L540.1,852.6 L540.9,854.5 L541.8,854.5 L542.7,854.3 L543.5,854.0 L544.4,853.9 L545.2,855.3 L546.1,855.8 L546.9,855.8 L547.8,856.2 L548.7,855.9 L549.5,856.3 L550.4,855.8 L551.2,855.4 L552.1,855.9 L552.9,855.2 L553.8,853.9 L554.7,854.3 L555.5,854.2 L555.9,854.4 L556.4,854.7 L556.9,855.0 L557.4,855.0 L557.9,855.2 L558.4,855.4 L558.9,855.6 L559.4,855.8 L559.9,856.1 L560.4,855.9 L560.9,856.0 L561.4,855.8 L561.9,855.8 L562.4,855.7 L562.9,855.5 L563.4,855.4 L563.9,855.0 L564.4,854.8 L564.9,854.5 L565.4,854.4 L565.9,854.3 L566.4,854.0 L566.9,853.9 L567.4,853.6 L567.9,853.3 L568.4,852.9 L568.9,852.7 L569.4,852.4 L569.9,851.9 L570.4,851.1 L570.9,850.1 L571.4,848.7 L571.9,847.1 L572.4,845.1 L572.9,842.9 L573.4,840.6 L573.9,837.6 L574.4,834.3 L574.9,830.3 L575.4,826.7 L575.9,823.1 L576.4,819.4 L576.9,814.5 L577.4,808.2 L577.9,798.3 L578.4,780.6 L578.9,742.6 L579.4,659.8 L579.9,586.8 L580.4,560.8 L580.9,563.9 L581.4,570.4 L581.9,578.5 L582.4,591.1 L582.9,607.2 L583.4,628.9 L583.9,664.3 L584.4,707.0 L584.9,741.7 L585.4,767.7 L585.9,781.1 L586.4,791.3 L586.9,799.0 L587.4,804.6 L587.9,809.1 L588.4,812.5 L588.9,815.2 L589.4,817.5 L589.9,819.6 L590.4,821.1 L590.9,822.6 L591.4,824.2 L591.9,827.1 L592.4,830.4 L592.9,833.6 L593.4,835.8 L593.9,837.9 L594.4,840.0 L594.9,841.7 L595.4,843.1 L595.9,844.5 L596.4,845.7 L596.9,846.9 L597.4,847.4 L597.9,848.2 L598.4,848.9 L598.9,849.7 L599.4,850.4 L599.9,850.9 L600.4,851.4 L600.9,851.9 L601.4,852.2 L601.9,852.2 L602.4,852.0 L602.9,852.0 L603.4,851.7 L603.9,851.5 L604.4,851.0 L604.9,850.6 L605.4,849.7 L605.9,848.8 L606.4,847.4 L606.9,846.0 L607.4,844.4 L607.9,842.4 L608.4,840.1 L608.9,837.1 L609.4,833.7 L609.9,829.4 L610.4,823.4 L610.9,815.1 L611.4,803.9 L611.9,785.4 L612.4,760.9 L612.9,729.2 L613.4,661.1 L613.9,589.8 L614.4,564.8 L614.9,566.8 L615.4,580.9 L615.9,594.7 L616.4,610.1 L616.9,627.3 L617.4,651.5 L617.9,687.7 L618.4,714.2 L618.9,734.0 L619.4,752.9 L619.9,776.5 L620.4,806.5 L620.9,820.9 L621.4,830.2 L621.9,836.3 L622.4,840.9 L622.9,845.5 L623.4,849.5 L623.9,851.0 L624.4,851.8 L624.9,852.4 L625.4,853.0 L625.9,853.3 L626.4,853.6 L626.9,853.7 L627.4,853.9 L627.9,853.9 L628.4,854.0 L628.9,854.0 L629.4,854.2 L629.9,854.4 L630.4,854.4 L630.9,854.3 L631.4,854.2 L631.9,854.3 L632.4,854.4 L632.9,854.5 L633.4,854.5 L633.9,854.4 L634.4,854.4 L634.9,854.5 L635.4,854.5 L635.9,854.4 L636.4,854.4 L636.9,854.5 L637.4,854.6 L637.9,854.7 L638.4,854.7 L638.9,854.8 L639.4,855.0 L639.9,855.1 L640.4,855.4 L640.9,855.3 L641.4,855.4 L641.9,855.3 L642.4,855.6 L642.9,855.7 L643.4,855.7 L643.9,855.6 L644.4,855.6 L645.5,855.7 L646.3,855.5 L647.2,856.9 L648.0,857.6 L648.9,857.1 L649.8,857.1 L650.6,857.8 L651.5,857.2 L652.3,857.1 L653.2,857.5 L654.0,858.3 L654.9,858.6 L655.8,857.9 L656.6,858.2 L657.5,857.8 L658.3,856.4 L659.2,857.0 L660.0,858.5 L660.9,857.4 L661.8,856.6 L662.6,857.4 L663.5,858.3 L664.3,857.7 L665.2,857.0 L666.0,856.7 L666.9,857.1 L667.7,857.8 L668.6,857.6 L669.5,857.6 L670.3,857.1 L671.2,856.5 L672.0,857.2 L672.9,857.6 L673.7,857.2 L674.6,856.9 L675.5,856.9 L676.3,857.7 L677.2,857.7 L678.0,857.1 L678.9,856.5 L679.7,856.0 L680.6,855.8 L681.5,856.2 L682.3,857.0 L683.2,857.2 L684.0,857.1 L684.9,857.8 L685.7,857.6 L686.6,857.2 L687.5,857.0 L688.3,857.6 L689.2,858.8 L690.0,858.3 L690.9,858.0 L691.7,857.7 L692.6,857.8 L693.5,858.4 L694.3,858.5 L695.2,857.4 L696.0,856.9 L696.9,857.7 L697.7,857.6 L698.6,857.5 L699.5,856.2 L700.3,854.4 L701.2,852.0 L702.0,847.5 L702.9,844.8 L703.7,845.5 L704.6,848.1 L705.4,852.8 L706.3,855.5 L707.2,856.5 L708.0,858.0 L708.9,858.0 L709.7,857.0 L710.6,856.3 L711.4,856.7 L712.3,857.4 L713.2,857.1 L714.0,856.7 L714.9,856.9 L715.7,857.7 L716.6,857.6 L717.4,856.7 L718.3,855.8 L719.2,855.6 L720.0,856.7 L720.9,857.1 L721.7,857.4 L722.6,857.7 L723.4,859.1 L724.3,859.1 L725.2,858.4 L726.0,858.0 L726.9,858.3 L727.7,858.9 L728.6,858.9 L729.4,858.5 L730.3,858.1 L731.2,858.3 L732.0,858.4 L732.9,858.8 L733.7,858.3 L734.6,858.1 L735.4,859.3 L736.3,859.6 L737.2,858.8 L738.0,859.1 L738.9,858.7 L739.7,858.5 L740.6,858.7 L741.4,859.1 L742.3,859.0 L743.1,858.2 L744.0,858.6 L744.9,859.0 L745.7,859.2 L746.6,859.0 L747.4,858.9 L748.3,859.0 L749.1,858.8 L750.0,859.6 L750.9,860.1 L751.7,859.6 L752.6,858.8 L753.4,857.5 L754.3,857.3 L755.1,858.8 L756.0,859.9 L756.9,859.5 L757.7,858.5 L758.6,859.3 L759.4,859.1 L760.3,858.6 L761.1,859.0 L762.0,859.5 L762.9,858.8 L763.7,858.1 L764.6,858.7 L765.4,859.2 L766.3,859.1 L767.1,858.1 L768.0,857.8 L768.9,857.4 L769.7,856.9 L770.6,857.7 L771.4,857.8 L772.3,857.9 L773.1,859.0 L774.0,859.4 L774.8,858.7 L775.7,858.7 L776.6,859.0 L777.4,859.1 L778.3,857.9 L779.1,857.9 L780.0,859.2 L780.8,859.0 L781.7,858.0 L782.6,857.2 L783.4,858.1 L784.3,858.4 L785.1,858.5 L786.0,858.6 L786.8,857.0 L787.7,856.6 L788.6,857.7 L789.4,858.7 L790.3,858.8 L791.1,858.9 L792.0,859.6 L792.8,858.8 L793.7,857.6 L794.6,857.8 L795.4,857.6 L796.3,858.5 L797.1,858.4 L798.0,858.1 L798.8,858.5 L799.7,857.9 L800.6,857.5 L801.4,856.8 L802.3,856.9 L803.1,857.9 L804.0,858.3 L804.8,857.9 L805.7,857.9 L806.6,858.6 L807.4,858.2 L808.3,857.4 L809.1,857.5 L810.0,858.3 L810.8,858.1 L811.7,858.3 L812.5,859.0 L813.4,857.7 L814.3,856.8 L815.1,856.4 L816.0,856.9 L816.8,857.2 L817.7,856.3 L818.5,855.4 L819.4,855.4 L820.3,856.7 L821.1,856.1 L822.0,855.7 L822.8,856.1 L823.7,855.9 L824.5,855.4 L825.4,855.6 L826.3,855.8 L827.1,856.3 L828.0,857.1 L828.8,856.7 L829.7,856.8 L830.5,856.5 L831.4,856.2 L832.3,857.4 L833.1,857.1 L834.0,856.8 L834.8,856.9 L835.7,856.9 L836.5,856.7 L837.4,857.0 L838.3,858.6 L839.1,859.3 L840.0,859.1 L840.8,858.1 L841.7,856.8 L842.5,857.3 L843.4,858.6 L844.3,858.4 L845.1,857.5 L846.0,858.2 L846.8,858.1 L847.7,858.0 L848.5,858.8 L849.4,858.4 L850.2,858.2 L851.1,858.9 L852.0,858.7 L852.8,857.7 L853.7,856.7 L854.5,856.6 L855.4,857.6 L856.2,858.6 L857.1,858.2 L858.0,857.9 L858.8,857.9 L859.7,858.5 L860.5,859.0 L861.4,859.1 L862.2,858.4 L863.1,857.5 L864.0,858.2 L864.8,858.4 L865.7,857.7 L866.5,858.4 L867.4,858.6 L868.2,857.9 L869.1,858.2 L870.0,858.1 L870.8,857.7 L871.7,858.2 L872.5,858.1 L873.4,858.7 L874.2,858.5 L875.1,857.8 L876.0,858.1 L876.8,858.3 L877.7,858.0 L878.5,858.0 L879.4,858.2 L880.2,858.3 L881.1,857.5 L881.9,857.3 L882.8,857.8 L883.7,857.4 L884.5,856.9 L885.4,857.0 L886.2,857.0 L887.1,857.6 L887.9,858.1 L888.8,858.2 L889.7,857.8 L890.5,858.6 L891.4,858.3 L892.2,856.9 L893.1,856.9 L893.9,857.8 L894.8,858.3 L895.7,857.5 L896.5,856.5 L897.4,856.4 L897.8,856.1 L898.3,855.7 L898.8,855.4 L899.3,855.0 L899.8,854.5 L900.3,854.0 L900.8,853.5 L901.3,852.8 L901.8,852.0 L902.3,851.0 L902.8,849.8 L903.3,848.4 L903.8,846.4 L904.3,842.2 L904.8,837.8 L905.3,836.2 L905.8,835.3 L906.3,835.2 L906.8,835.8 L907.3,836.4 L907.8,837.4 L908.3,838.6 L908.8,839.6 L909.3,841.0 L909.8,842.0 L910.3,843.1 L910.8,843.9 L911.3,844.5 L911.8,844.3 L912.3,843.5 L912.8,841.8 L913.3,838.9 L913.8,827.5 L914.3,822.3 L914.8,819.8 L915.3,819.1 L915.8,821.3 L916.3,824.3 L916.8,825.2 L917.3,823.1 L917.8,820.4 L918.3,820.0 L918.8,821.9 L919.3,825.2 L919.8,829.0 L920.3,835.4 L920.8,840.4 L921.3,841.4 L921.8,842.0 L922.3,842.9 L922.8,843.1 L923.3,843.3 L923.8,843.3 L924.3,843.1 L924.8,842.4 L925.3,841.4 L925.8,840.2 L926.3,839.2 L926.8,838.5 L927.3,838.2 L927.8,837.8 L928.3,837.4 L928.8,836.6 L929.3,835.2 L929.8,830.6 L930.3,824.2 L930.8,815.7 L931.3,805.0 L931.8,794.0 L932.3,783.0 L932.8,773.5 L933.3,772.1 L933.8,780.9 L934.3,792.9 L934.8,801.5 L935.3,803.7 L935.8,805.8 L936.3,808.1 L936.8,810.6 L937.3,814.3 L937.8,821.1 L938.3,830.2 L938.8,839.9 L939.3,842.7 L939.8,844.4 L940.3,845.5 L940.8,846.3 L941.3,847.0 L941.8,847.8 L942.3,848.4 L942.8,849.0 L943.3,849.2 L943.8,849.5 L944.3,849.9 L944.8,850.4 L945.3,850.8 L945.8,851.0 L946.3,851.3 L946.8,851.7 L947.3,852.1 L947.8,852.4 L948.3,852.5 L948.8,852.8 L949.3,853.1 L949.8,853.6 L950.3,854.0 L950.8,854.5 L951.3,854.9 L951.8,855.2 L952.3,855.5 L952.8,855.7 L953.3,855.8 L953.8,856.0 L954.3,856.2 L954.8,856.4 L955.3,856.3 L955.8,856.3 L956.3,856.3 L956.8,856.2 L957.3,856.1 L957.8,856.0 L958.3,856.0 L958.8,855.9 L959.3,855.7 L959.8,855.5 L960.3,855.3 L960.8,855.1 L961.3,855.1 L961.8,855.0 L962.3,855.0 L962.8,855.0 L963.3,855.3 L963.8,855.1 L964.3,854.9 L964.8,854.7 L965.3,854.9 L965.8,855.0 L966.3,855.1 L966.8,855.2 L967.3,855.1 L967.8,855.1 L968.3,855.1 L968.8,855.1 L969.3,854.9 L969.8,855.0 L970.3,855.0 L970.8,855.2 L971.3,855.2 L971.8,855.5 L972.3,855.7 L972.8,856.2 L973.3,856.7 L973.8,857.3 L974.3,857.8 L975.3,858.0 L976.2,857.7 L977.1,857.5 L977.9,857.1 L978.8,856.7 L979.6,857.9 L980.5,858.9 L981.3,858.3 L982.2,857.6 L983.1,857.4 L983.9,857.8 L984.8,857.8 L985.6,858.0 L986.5,858.5 L987.3,858.1 L988.2,858.2 L989.0,857.5 L989.9,857.2 L990.8,858.3 L991.6,857.7 L992.5,858.0 L993.3,858.0 L994.2,857.0 L995.0,856.2 L995.9,854.8 L996.8,855.2 L997.6,856.9 L998.5,856.9 L999.3,855.8 L1000.2,856.0 L1001.0,855.9 L1001.9,854.7 L1002.8,854.1 L1003.2,854.4 L1003.7,854.5 L1004.2,854.7 L1004.7,854.9 L1005.2,855.2 L1005.7,855.4 L1006.2,855.6 L1006.7,855.7 L1007.2,855.8 L1007.7,855.8 L1008.2,855.6 L1008.7,855.4 L1009.2,854.7 L1009.7,854.0 L1010.2,853.0 L1010.7,851.9 L1011.2,850.7 L1011.7,849.2 L1012.2,847.2 L1012.7,844.6 L1013.2,841.9 L1013.7,839.3 L1014.2,836.5 L1014.7,832.9 L1015.2,828.2 L1015.7,821.5 L1016.2,812.4 L1016.7,797.6 L1017.2,779.1 L1017.7,759.1 L1018.2,738.1 L1018.7,728.1 L1019.2,727.6 L1019.7,731.8 L1020.2,740.0 L1020.7,759.1 L1021.2,778.3 L1021.7,777.9 L1022.2,776.9 L1022.7,775.8 L1023.2,774.9 L1023.7,774.5 L1024.2,788.7 L1024.7,809.3 L1025.2,821.6 L1025.7,830.2 L1026.2,837.9 L1026.7,843.7 L1027.2,846.6 L1027.7,848.9 L1028.2,850.5 L1028.7,851.8 L1029.2,852.8 L1029.7,853.7 L1030.2,854.4 L1030.7,855.2 L1031.2,855.5 L1031.7,855.9 L1032.2,856.1 L1032.7,856.3 L1033.2,856.3 L1033.7,856.3 L1034.2,856.5 L1034.7,856.5 L1035.2,856.5 L1035.7,856.3 L1036.2,856.3 L1036.7,856.4 L1037.2,856.6 L1037.7,856.7 L1038.2,856.9 L1038.7,856.8 L1039.2,856.8 L1039.7,856.8 L1040.2,856.9 L1040.7,856.8 L1041.2,856.9 L1041.7,857.2 L1042.2,857.7 L1042.7,858.0 L1043.2,857.9 L1043.9,858.0 L1044.7,857.6 L1045.6,857.3 L1046.5,857.4 L1047.3,858.0 L1048.2,857.8 L1049.0,856.6 L1049.9,857.0 L1050.7,857.7 L1051.6,858.1 L1052.5,858.1 L1053.3,857.8 L1054.2,857.6 L1055.0,856.4 L1055.9,856.5 L1056.7,857.6 L1057.6,857.5 L1058.5,858.1 L1059.3,858.0 L1060.2,857.3 L1061.0,858.3 L1061.9,858.5 L1062.7,858.5 L1063.6,857.3 L1064.4,856.7 L1065.3,858.0 L1066.2,858.7 L1067.0,858.1 L1067.9,858.0 L1068.7,858.0 L1069.6,857.6 L1070.4,858.4 L1071.3,858.3 L1072.2,857.1 L1073.0,857.1 L1073.9,857.6 L1074.7,858.1 L1075.6,858.7 L1076.4,858.3 L1077.3,858.5 L1078.2,859.3 L1079.0,858.5 L1079.9,858.0 L1080.7,858.3 L1081.6,857.7 L1082.4,857.6 L1083.3,857.6 L1084.2,857.4 L1085.0,857.8 L1085.9,857.8 L1086.7,858.1 L1087.6,858.3 L1088.4,858.3 L1089.3,858.4 L1090.2,858.5 L1091.0,858.0 L1091.9,857.5 L1092.7,858.4 L1093.6,859.2 L1094.4,859.4 L1095.3,858.1 L1096.1,858.1 L1097.0,858.2 L1097.9,858.2 L1098.7,858.6 L1099.6,858.8 L1100.4,858.6 L1101.3,857.7 L1102.1,857.3 L1103.0,857.7 L1103.9,858.5 L1104.7,858.6 L1105.6,858.8 L1106.4,859.3 L1107.3,858.6 L1108.1,858.4 L1109.0,858.3 L1109.9,858.1 L1110.7,857.8 L1111.6,857.9 L1112.4,858.2 L1113.3,857.8 L1114.1,857.8 L1115.0,858.1 L1115.9,859.1 L1116.7,859.0 L1117.6,859.0 L1118.4,859.7 L1119.3,859.8 L1120.1,859.7 L1121.0,858.9 L1121.9,858.9 L1122.7,859.0 L1123.6,859.1 L1124.4,859.0 L1125.3,859.0 L1126.1,858.3 L1127.0,859.0 L1127.9,859.3 L1128.7,858.4 L1129.6,859.1 L1130.4,859.1 L1131.3,857.9 L1132.1,857.5 L1133.0,858.2 L1133.8,858.3 L1134.7,857.8 L1135.6,858.8 L1136.4,859.0 L1137.3,858.5 L1138.1,858.4 L1139.0,858.2 L1139.8,858.2 L1140.7,858.5 L1141.6,858.6 L1142.4,858.8 L1143.3,858.7 L1144.1,858.4 L1145.0,858.1 L1145.8,858.6 L1146.7,858.0 L1147.6,856.9 L1148.4,857.5 L1149.3,857.9 L1150.1,858.1 L1151.0,858.7 L1151.8,858.2 L1152.7,857.7 L1153.6,857.2 L1154.4,857.9 L1155.3,858.6 L1156.1,857.9 L1157.0,857.3 L1157.8,858.3 L1158.7,858.9 L1159.6,858.0 L1160.4,857.4 L1161.3,858.1 L1162.1,858.3 L1163.0,858.7 L1163.8,858.5 L1164.7,856.8 L1165.6,857.6 L1166.4,858.4 L1167.3,858.7 L1168.1,859.1 L1169.0,858.3 L1169.8,857.6 L1170.7,857.8 L1171.5,858.6 L1172.4,859.0 L1173.3,857.6 L1174.1,857.2 L1175.0,858.2 L1175.8,858.0 L1176.7,858.2 L1177.5,858.2 L1178.4,858.1 L1179.3,858.6 L1180.1,858.9 L1181.0,857.9 L1181.8,856.9 L1182.7,857.5 L1183.5,857.4 L1184.4,857.9 L1185.3,858.5 L1186.1,858.3 L1187.0,857.5 L1187.8,857.5 L1188.7,857.9 L1189.5,858.7 L1190.4,858.0 L1191.3,857.1 L1192.1,857.4 L1193.0,857.7 L1193.8,857.7 L1194.7,857.6 L1195.5,858.0 L1196.4,857.5 L1197.3,856.7 L1197.8,856.1 L1198.3,856.0 L1198.8,855.7 L1199.3,855.4 L1199.8,854.9 L1200.3,854.7 L1200.8,854.2 L1201.3,853.9 L1201.8,853.3 L1202.3,852.4 L1202.8,851.7 L1203.3,851.6 L1203.8,852.0 L1204.3,852.5 L1204.8,853.1 L1205.3,853.4 L1205.8,853.9 L1206.3,854.3 L1206.8,854.7 L1207.3,854.9 L1207.8,855.1 L1208.3,855.4 L1208.8,855.9 L1209.3,856.2 L1209.8,856.3 L1210.3,856.5 L1210.8,856.6 L1211.3,856.8 L1211.8,857.0 L1212.3,857.3 L1212.8,857.6 L1213.5,858.0 L1214.4,857.1 L1215.2,858.4 L1216.1,858.9 L1217.0,858.0 L1217.8,857.9 L1218.7,858.5 L1219.5,858.1 L1220.4,857.8 L1221.2,857.9 L1222.1,857.9 L1223.0,858.0 L1223.8,857.9 L1224.7,857.3 L1225.5,857.3 L1226.4,858.2 L1227.2,858.2 L1228.1,857.7 L1229.0,856.6 L1229.8,857.1 L1230.7,858.3 L1231.5,857.7 L1232.4,857.2 L1233.2,857.7 L1234.1,859.0 L1235.0,858.3 L1235.8,857.4 L1236.7,857.4 L1237.5,857.4 L1238.4,857.4 L1239.2,857.4 L1240.1,857.1 L1240.9,857.7 L1241.8,856.9 L1242.7,857.0 L1243.5,858.2 L1244.4,857.9 L1245.2,857.2 L1246.1,856.6 L1246.9,856.3 L1247.5,856.3 L1248.0,856.0 L1248.5,855.8 L1249.0,855.7 L1249.5,855.3 L1250.0,855.0 L1250.5,854.5 L1251.0,854.2 L1251.5,853.8 L1252.0,853.4 L1252.5,852.7 L1253.0,851.0 L1253.5,848.5 L1254.0,845.4 L1254.5,841.1 L1255.0,835.7 L1255.5,831.2 L1256.0,826.8 L1256.5,824.0 L1257.0,822.2 L1257.5,822.4 L1258.0,825.2 L1258.5,828.5 L1259.0,832.7 L1259.5,833.8 L1260.0,833.5 L1260.5,833.2 L1261.0,832.6 L1261.5,832.2 L1262.0,833.3 L1262.5,839.0 L1263.0,842.6 L1263.5,844.3 L1264.0,845.7 L1264.5,846.9 L1265.0,847.9 L1265.5,848.5 L1266.0,849.4 L1266.5,850.1 L1267.0,850.9 L1267.5,851.1 L1268.0,850.3 L1268.5,848.6 L1269.0,847.0 L1269.5,845.5 L1270.0,844.1 L1270.5,842.4 L1271.0,841.3 L1271.5,841.0 L1272.0,842.1 L1272.5,844.1 L1273.0,846.0 L1273.5,847.0 L1274.0,847.1 L1274.5,847.2 L1275.0,847.3 L1275.5,847.5 L1276.0,847.5 L1276.5,848.1 L1277.0,849.5 L1277.5,851.6 L1278.0,853.2 L1278.5,854.1 L1279.0,854.6 L1279.5,855.2 L1280.0,855.6 L1280.5,855.7 L1281.0,855.6 L1281.5,855.6 L1282.0,855.6 L1282.5,855.6 L1283.0,855.2 L1283.5,854.8 L1284.0,854.5 L1284.5,854.2 L1285.0,853.9 L1285.5,853.4 L1286.0,853.2 L1286.5,852.9 L1287.0,853.1 L1287.5,853.2 L1288.0,853.2 L1288.5,853.0 L1289.0,852.6 L1289.5,852.7 L1290.0,852.6 L1290.5,852.1 L1291.0,849.9 L1291.5,847.2 L1292.0,845.3 L1292.5,844.2 L1293.0,843.4 L1293.5,843.4 L1294.0,844.4 L1294.5,846.3 L1295.0,847.9 L1295.5,848.8 L1296.0,849.6 L1296.5,850.0 L1297.0,850.6 L1297.5,851.3 L1298.0,852.6 L1298.5,853.5 L1299.0,854.3 L1299.5,854.9 L1300.0,855.5 L1300.5,856.0 L1301.0,856.2 L1301.5,856.3 L1302.0,856.5 L1302.5,856.9 L1303.0,857.3 L1303.5,857.7 L1304.0,857.5 L1304.5,857.4 L1305.0,857.3 L1305.5,857.3 L1306.0,857.4 L1306.5,857.4 L1307.0,857.4 L1307.5,857.4 L1308.0,857.2 L1308.5,857.2 L1309.0,857.1 L1309.5,857.2 L1310.0,857.1 L1310.5,857.1 L1311.0,857.0 L1311.5,856.8 L1312.0,856.4 L1312.5,856.4 L1313.0,855.9 L1313.5,855.1 L1314.0,853.7 L1314.5,852.4 L1315.0,851.4 L1315.5,850.7 L1316.0,850.0 L1316.5,849.4 L1317.0,848.6 L1317.5,847.4 L1318.0,844.9 L1318.5,841.2 L1319.0,836.8 L1319.5,831.5 L1320.0,824.0 L1320.5,813.7 L1321.0,798.0 L1321.5,781.1 L1322.0,764.5 L1322.5,751.7 L1323.0,745.2 L1323.5,749.2 L1324.0,757.0 L1324.5,770.8 L1325.0,787.9 L1325.5,802.4 L1326.0,806.9 L1326.5,798.8 L1327.0,793.3 L1327.5,791.1 L1328.0,797.2 L1328.5,805.6 L1329.0,814.8 L1329.5,823.7 L1330.0,832.5 L1330.5,838.0 L1331.0,841.6 L1331.5,844.2 L1332.0,846.1 L1332.5,847.8 L1333.0,849.5 L1333.5,851.0 L1334.0,852.0 L1334.5,852.9 L1335.0,853.7 L1335.5,854.6 L1336.0,855.6 L1336.5,856.5 L1337.0,857.4 L1337.5,857.8 L1338.0,857.8 L1338.5,857.6 L1339.0,857.7 L1339.5,857.8 L1340.0,857.7 L1340.5,857.7 L1341.0,857.7 L1341.5,858.0 L1342.0,858.0 L1342.5,858.1 L1343.0,857.9 L1343.5,858.1 L1344.0,857.9 L1344.5,858.0 L1345.0,858.0 L1345.5,857.9 L1346.0,858.2 L1346.5,858.2 L1347.0,858.4 L1347.5,857.9 L1348.0,857.9 L1348.5,857.8 L1349.0,858.0 L1349.5,857.9 L1350.0,857.9 L1350.5,857.9 L1351.0,858.1 L1351.5,858.3 L1352.0,858.3 L1352.5,857.9 L1353.0,857.4 L1353.5,857.3 L1354.0,856.8 L1354.5,856.4 L1355.0,855.6 L1355.5,855.0 L1356.0,854.3 L1356.5,853.6 L1357.0,852.8 L1357.5,851.9 L1358.0,851.5 L1358.5,851.6 L1359.0,852.5 L1359.5,853.8 L1360.0,854.9 L1360.5,855.2 L1361.0,855.0 L1361.5,854.5 L1362.0,854.2 L1362.5,853.8 L1363.0,853.8 L1363.5,854.0 L1364.0,854.3 L1364.5,854.7 L1365.0,855.2 L1365.5,855.5 L1366.0,855.9 L1366.5,856.3 L1367.0,856.9 L1367.5,857.6 L1368.0,858.0 L1368.6,857.9 L1369.5,858.3 L1370.3,858.2 L1371.2,858.2 L1372.0,858.8 L1372.9,859.1 L1373.8,859.0 L1374.6,859.5 L1375.5,859.7 L1376.3,858.8 L1377.2,858.8 L1378.0,859.1 L1378.9,858.4 L1379.8,858.4 L1380.6,858.4 L1381.5,858.7 L1382.3,859.2 L1383.2,858.1 L1384.0,857.2 L1384.9,857.8 L1385.7,859.3 L1386.6,860.1 L1387.5,859.4 L1388.3,858.9 L1389.2,858.9 L1390.0,858.8 L1390.9,858.4 L1391.7,858.5 L1392.6,858.0 L1393.5,858.6 L1394.3,859.4 L1395.2,859.5 L1396.0,858.9 L1396.9,858.7 L1397.7,859.3 L1398.6,859.6 L1399.5,859.1 L1400.3,858.6 L1401.2,858.7 L1402.0,858.7 L1402.9,859.4 L1403.7,858.8 L1404.6,858.0 L1405.5,858.2 L1406.3,858.5 L1407.2,858.1 L1408.0,858.2 L1408.9,858.9 L1409.7,858.8 L1410.6,859.1 L1411.5,858.3 L1412.3,857.9 L1413.2,858.8 L1414.0,858.7 L1414.9,858.4 L1415.7,858.3 L1416.6,858.3 L1417.4,858.1 L1418.3,858.5 L1419.2,858.9 L1420.0,858.0 L1420.9,857.3 L1421.7,858.5 L1422.6,858.7 L1423.4,858.2 L1424.3,857.7 L1425.2,858.0 L1426.0,858.4 L1426.9,857.8 L1427.7,858.7 L1428.6,859.3 L1429.4,858.3 L1430.3,858.2 L1431.2,858.2 L1432.0,858.2 L1432.9,859.3 L1433.7,859.4 L1434.6,858.5 L1435.4,858.5 L1436.3,858.2 L1437.2,858.6 L1438.0,859.1 L1438.9,858.7 L1439.7,859.3 L1440.6,859.8 L1441.4,860.4 L1442.3,860.3 L1443.2,859.5 L1444.0,859.1 L1444.9,859.1 L1445.7,858.9 L1446.6,859.1 L1447.4,859.1 L1448.3,858.4 L1449.2,859.1 L1450.0,859.4 L1450.9,859.4 L1451.7,858.6 L1452.6,858.4 L1453.4,859.5 L1454.3,858.8 L1455.1,858.6 L1456.0,858.8 L1456.9,858.4 L1457.7,858.9 L1458.6,858.5 L1459.4,858.7 L1460.3,859.7 L1461.1,858.8 L1462.0,859.6 L1462.9,860.2 L1463.7,859.2 L1464.6,858.7 L1465.4,859.0 L1466.3,859.0 L1467.1,859.2 L1468.0,859.0 L1468.9,858.1 L1469.7,858.8 L1470.6,859.2 L1471.4,859.0 L1472.3,859.1 L1473.1,859.2 L1474.0,858.5 L1474.9,857.9 L1475.7,858.3 L1476.6,858.8 L1477.4,858.9 L1478.3,858.0 L1479.1,858.0 L1480.0,858.5 L1480.9,858.6 L1481.7,858.1 L1482.6,858.4 L1483.4,859.7 L1484.3,860.0 L1485.1,859.0 L1486.0,859.1 L1486.9,859.2 L1487.7,858.4 L1488.6,857.4 L1489.4,857.1 L1490.3,857.8 L1491.1,859.2 L1492.0,859.2 L1492.8,859.1 L1493.7,859.6 L1494.6,858.6 L1495.4,858.4 L1496.3,858.8 L1497.1,858.3 L1498.0,858.4 L1498.8,858.5 L1499.7,859.0 L1500.6,858.1 L1501.4,857.9 L1502.3,858.3 L1503.1,858.5 L1504.0,858.2 L1504.8,858.3 L1505.7,858.2 L1506.6,858.3 L1507.4,859.4 L1508.3,860.0 L1509.1,859.3 L1510.0,857.8 L1510.8,856.8 L1511.7,857.7 L1512.6,858.5 L1513.4,858.5 L1514.3,858.3 L1515.1,857.6 L1516.0,857.8 L1516.8,858.9 L1517.7,858.7 L1518.6,858.5 L1519.4,857.7 L1520.3,857.1 L1521.1,857.6 L1522.0,857.7 L1522.8,858.6 L1523.7,858.5 L1524.5,857.3 L1525.4,857.6 L1526.3,857.6 L1527.1,857.5 L1528.0,857.6 L1528.8,856.9 L1529.7,856.9 L1530.5,857.1 L1531.4,856.8 L1532.3,857.0 L1533.1,857.4 L1534.0,857.7 L1534.2,857.7 L1534.7,857.6 L1535.2,857.6 L1535.7,857.5 L1536.2,857.4 L1536.7,857.2 L1537.2,857.1 L1537.7,857.3 L1538.2,857.2 L1538.7,857.0 L1539.2,856.7 L1539.7,856.5 L1540.2,856.2 L1540.7,856.0 L1541.2,855.8 L1541.7,855.5 L1542.2,855.1 L1542.7,854.7 L1543.2,854.2 L1543.7,853.3 L1544.2,852.4 L1544.7,851.0 L1545.2,849.4 L1545.7,848.3 L1546.2,847.8 L1546.7,847.5 L1547.2,847.2 L1547.7,847.4 L1548.2,847.9 L1548.7,848.6 L1549.2,849.1 L1549.7,849.7 L1550.2,850.1 L1550.7,846.6 L1551.2,839.7 L1551.7,832.9 L1552.2,826.4 L1552.7,822.8 L1553.2,821.7 L1553.7,823.0 L1554.2,825.5 L1554.7,828.4 L1555.2,833.4 L1555.7,837.6 L1556.2,837.9 L1556.7,836.7 L1557.2,835.6 L1557.7,834.5 L1558.2,833.8 L1558.7,833.1 L1559.2,833.1 L1559.7,835.3 L1560.2,838.7 L1560.7,841.5 L1561.2,844.2 L1561.7,846.5 L1562.2,848.1 L1562.7,849.5 L1563.2,851.1 L1563.7,852.5 L1564.2,853.0 L1564.7,853.1 L1565.2,852.8 L1565.7,852.8 L1566.2,852.4 L1566.7,852.4 L1567.2,852.4 L1567.7,852.6 L1568.2,853.0 L1568.7,853.4 L1569.2,853.9 L1569.7,854.5 L1570.2,854.9 L1570.7,855.2 L1571.2,855.3 L1571.7,855.6 L1572.2,855.9 L1572.7,856.0 L1573.2,856.2 L1573.7,856.2 L1574.2,856.3 L1574.7,856.4 L1575.2,856.3 L1575.7,856.3 L1576.2,856.4 L1576.7,856.6 L1577.2,856.7 L1577.7,856.8 L1578.2,856.8 L1578.7,856.9 L1579.2,856.9 L1579.7,856.9 L1580.2,856.9 L1580.7,856.8 L1581.2,856.5 L1581.7,856.1 L1582.2,855.7 L1582.7,855.5 L1583.2,855.2 L1583.7,855.4 L1584.2,855.7 L1584.7,856.1 L1585.2,856.5 L1585.7,856.9 L1586.2,857.5 L1586.7,857.9 L1587.1,858.1 L1588.0,857.2 L1588.8,856.9 L1589.7,856.3 L1590.5,856.7 L1591.4,857.5 L1592.2,857.5 L1593.1,858.2 L1594.0,858.5 L1594.8,857.3 L1595.7,856.4 L1596.5,857.3 L1597.4,857.8 L1598.2,857.6 L1599.1,857.6 L1599.9,858.0 L1600.8,858.1 L1601.7,857.6 L1602.5,858.1 L1603.4,858.5 L1604.2,858.5 L1605.1,858.3 L1605.9,857.3 L1606.8,856.5 L1607.7,856.6 L1608.5,856.9 L1609.4,857.2 L1610.2,858.0 L1611.1,858.4 L1611.9,857.6 L1612.8,857.4 L1613.7,858.3 L1614.5,858.1 L1615.4,857.5 L1616.2,857.5 L1617.1,857.7 L1617.9,857.6 L1618.8,857.2 L1619.7,857.6 L1619.9,857.3 L1620.4,857.1 L1620.9,856.9 L1621.4,856.9 L1621.9,856.8 L1622.4,856.7 L1622.9,856.5 L1623.4,856.1 L1623.9,855.8 L1624.4,855.7 L1624.9,855.7 L1625.4,855.4 L1625.9,855.0 L1626.4,854.4 L1626.9,853.8 L1627.4,853.0 L1627.9,852.2 L1628.4,850.9 L1628.9,849.0 L1629.4,846.5 L1629.9,843.9 L1630.4,840.6 L1630.9,836.0 L1631.4,831.6 L1631.9,828.8 L1632.4,826.3 L1632.9,824.9 L1633.4,825.9 L1633.9,829.4 L1634.4,833.4 L1634.9,838.6 L1635.4,843.9 L1635.9,845.8 L1636.4,844.5 L1636.9,842.4 L1637.4,840.7 L1637.9,840.2 L1638.4,840.0 L1638.9,840.1 L1639.4,841.4 L1639.9,843.6 L1640.4,845.7 L1640.9,848.3 L1641.4,850.9 L1641.9,852.8 L1642.4,853.5 L1642.9,853.8 L1643.4,853.8 L1643.9,853.9 L1644.4,853.4 L1644.9,852.5 L1645.4,851.4 L1645.9,850.9 L1646.4,851.3 L1646.9,851.8 L1647.4,852.6 L1647.9,853.2 L1648.4,854.0 L1648.9,854.9 L1649.4,855.6 L1649.9,855.9 L1650.4,856.2 L1650.9,856.4 L1651.4,856.1 L1651.9,855.7 L1652.4,855.4 L1652.9,855.5 L1653.4,855.7 L1653.9,855.9 L1654.4,856.0 L1654.9,856.4 L1655.4,856.7 L1655.9,857.4 L1656.4,858.0 L1656.5,858.1 L1657.4,858.3 L1658.2,858.3 L1659.1,858.3 L1659.9,859.3 L1660.8,859.4 L1661.6,859.0 L1662.5,858.5 L1663.4,858.1 L1664.2,858.4 L1665.1,858.6 L1665.9,858.9 L1666.8,859.2 L1667.6,859.1 L1668.5,858.8 L1669.3,858.9 L1670.2,859.4 L1671.1,859.2 L1671.9,859.6 L1672.8,859.5 L1673.6,859.3 L1674.5,858.8 L1675.3,859.2 L1676.2,860.4 L1677.1,860.5 L1677.9,859.8 L1678.8,859.2 L1679.6,859.5 L1680.5,859.3 L1681.3,858.7 L1682.2,858.1 L1683.1,858.1 L1683.9,859.2" fill="none" stroke="#ff0000" stroke-width="3.7" stroke-linejoin="round" stroke-linecap="round" clip-path="url(#plotclip)"/>
<path d="M113.4,505.8 L114.5,504.2 L115.7,501.3 L116.8,500.5 L118.0,502.1 L119.1,504.9 L120.3,505.4 L121.4,507.1 L122.5,505.2 L123.7,504.5 L124.8,506.9 L126.0,505.2 L127.1,501.5 L128.3,501.2 L129.4,504.7 L130.5,505.5 L131.7,503.2 L132.8,502.5 L134.0,504.2 L135.1,504.3 L136.2,502.3 L137.4,499.5 L138.5,501.8 L139.7,505.2 L140.8,504.5 L142.0,506.7 L143.1,506.9 L144.2,505.1 L145.4,502.3 L146.5,500.9 L147.7,504.7 L148.8,503.7 L150.0,502.1 L151.1,505.1 L152.2,505.6 L153.4,504.1 L154.5,505.3 L155.7,504.1 L156.8,505.9 L158.0,505.9 L159.1,502.1 L160.2,501.2 L161.4,501.2 L162.5,501.3 L163.7,500.6 L164.8,503.6 L166.0,504.4 L167.1,505.7 L168.2,507.5 L169.4,507.6 L170.5,505.5 L171.7,501.4 L172.8,503.3 L173.9,502.8 L175.1,503.6 L176.2,505.6 L177.4,504.7 L178.5,506.1 L179.7,505.9 L180.8,502.0 L181.9,504.0 L183.1,505.2 L184.2,504.6 L185.4,503.2 L186.5,502.3 L187.7,503.5 L188.8,503.1 L189.9,503.5 L191.1,505.8 L192.2,504.4 L193.4,504.2 L194.5,505.3 L195.7,502.8 L196.8,504.3 L197.9,505.1 L199.1,502.7 L200.2,502.7 L201.4,505.2 L202.5,509.0 L203.6,508.8 L204.8,505.4 L205.9,504.7 L207.1,505.2 L208.2,504.0 L209.4,503.4 L210.5,503.9 L211.6,502.6 L212.8,503.4 L213.9,505.0 L215.1,501.3 L216.2,500.0 L217.4,504.3 L218.5,505.8 L219.6,503.4 L220.8,501.4 L221.9,502.1 L223.1,504.6 L224.2,505.7 L225.4,504.3 L226.5,502.8 L227.6,504.1 L228.8,505.0 L229.9,504.6 L231.1,503.3 L232.2,503.5 L233.4,503.9 L234.5,502.1 L235.6,501.9 L236.8,504.1 L237.9,502.9 L239.1,502.6 L240.2,503.3 L241.3,503.4 L242.5,506.3 L243.6,505.0 L244.8,502.4 L245.9,502.6 L247.1,502.1 L248.2,502.9 L249.3,504.9 L250.5,504.1 L251.6,500.8 L252.8,499.8 L253.9,502.7 L255.1,502.9 L256.2,502.7 L257.3,503.5 L258.5,501.6 L259.6,501.8 L260.8,505.1 L261.9,505.5 L263.1,503.2 L264.2,502.3 L265.3,500.6 L266.5,502.1 L267.6,502.9 L268.8,501.2 L269.9,502.3 L271.1,501.3 L272.2,500.8 L273.3,503.2 L274.5,502.3 L275.6,502.9 L276.8,504.2 L277.9,502.1 L279.0,501.9 L280.2,502.7 L281.3,502.9 L282.5,502.4 L283.6,501.4 L284.8,502.4 L285.9,504.2 L287.0,504.2 L288.2,506.1 L289.3,502.4 L290.5,500.9 L291.6,506.2 L292.8,503.9 L293.9,503.5 L295.0,504.2 L296.2,501.8 L297.3,503.5 L298.5,505.2 L299.6,504.9 L300.8,504.1 L301.9,505.1 L303.0,506.4 L304.2,504.6 L305.3,501.5 L306.5,500.5 L307.6,499.4 L308.8,499.3 L309.9,502.4 L311.0,503.5 L312.2,505.6 L313.3,506.9 L314.5,505.2 L315.6,503.4 L316.7,501.3 L317.9,502.4 L319.0,504.1 L320.2,505.4 L321.3,505.1 L322.5,502.9 L323.6,502.6 L324.7,504.2 L325.9,502.1 L327.0,499.5 L328.2,502.9 L329.3,505.0 L330.5,505.0 L331.6,504.5 L332.7,504.4 L333.9,504.2 L335.0,503.0 L336.2,501.9 L337.3,501.9 L338.5,503.6 L339.6,504.3 L340.7,504.1 L341.9,505.3 L343.0,502.5 L344.2,502.4 L345.3,502.5 L346.4,502.3 L347.6,504.3 L348.7,502.4 L349.9,502.8 L351.0,503.8 L352.2,504.3 L353.3,505.1 L354.4,505.1 L355.6,505.1 L356.7,502.7 L357.9,502.3 L359.0,502.5 L360.2,505.7 L361.3,507.5 L362.4,503.0 L363.6,503.3 L364.7,502.3 L365.9,499.8 L367.0,499.6 L368.2,496.3 L369.3,488.2 L370.4,485.0 L371.6,488.3 L372.7,492.1 L373.9,496.5 L375.0,500.9 L376.2,503.4 L377.3,500.1 L378.4,498.9 L379.6,501.3 L380.7,501.4 L381.9,500.2 L383.0,500.7 L384.1,500.9 L385.3,499.8 L386.4,502.1 L387.6,501.2 L388.7,504.3 L389.9,506.9 L391.0,503.9 L392.1,504.2 L393.3,505.1 L394.4,504.5 L395.6,505.0 L396.7,501.0 L397.9,499.5 L399.0,503.0 L400.1,501.9 L401.3,502.5 L402.4,503.1 L403.6,502.4 L404.7,501.8 L405.9,503.9 L407.0,504.8 L408.1,502.7 L409.3,504.8 L410.4,503.1 L411.6,503.0 L412.7,502.2 L413.9,500.5 L415.0,501.8 L416.1,502.4 L417.3,502.5 L418.4,505.2 L419.6,505.8 L420.7,504.3 L421.8,503.7 L423.0,503.0 L424.1,502.3 L425.3,503.0 L426.4,501.2 L427.6,497.1 L428.7,499.6 L429.8,502.7 L431.0,501.9 L432.1,500.0 L433.3,497.7 L434.4,500.7 L435.6,503.8 L436.7,503.6 L437.8,504.4 L439.0,505.4 L440.1,503.5 L441.3,502.9 L442.4,501.3 L443.6,498.8 L444.7,502.1 L445.8,504.3 L447.0,503.7 L448.1,501.0 L449.3,501.1 L450.4,504.8 L451.6,503.9 L452.7,501.8 L453.8,503.0 L455.0,501.6 L456.1,500.4 L457.3,501.8 L458.4,503.0 L459.5,503.5 L460.7,502.9 L461.8,505.8 L463.0,505.5 L464.1,505.1 L465.3,505.7 L466.4,505.2 L467.5,502.7 L468.7,500.3 L469.8,501.9 L471.0,501.4 L472.1,504.0 L473.3,508.0 L474.4,506.3 L475.5,502.1 L476.7,501.3 L477.8,501.5 L479.0,499.9 L480.1,502.4 L481.3,502.5 L482.4,497.3 L483.5,497.8 L484.7,502.5 L485.8,501.9 L487.0,499.1 L488.1,498.0 L489.2,498.1 L490.4,498.1 L491.5,499.7 L492.7,498.8 L493.8,494.5 L495.0,494.5 L496.1,499.1 L497.2,501.1 L498.4,503.5 L499.5,504.2 L500.7,501.2 L501.8,503.5 L503.0,503.3 L504.1,502.4 L505.2,501.6 L506.4,501.7 L507.5,502.7 L508.7,505.1 L509.8,506.7 L511.0,505.1 L512.1,503.4 L513.2,502.8 L514.4,500.9 L515.5,502.2 L516.7,504.2 L517.8,503.1 L519.0,503.2 L520.1,502.9 L521.2,503.3 L522.4,502.1 L523.5,501.6 L524.7,501.8 L525.8,501.4 L526.9,500.9 L528.1,502.8 L529.2,503.7 L530.4,502.2 L531.5,502.9 L532.7,501.1 L533.8,503.3 L534.9,506.5 L536.1,506.5 L537.2,504.8 L538.4,505.9 L539.5,505.4 L540.7,504.7 L541.8,506.4 L542.9,505.5 L544.1,503.8 L545.2,504.3 L546.4,505.1 L547.5,504.5 L548.7,503.9 L549.8,507.1 L550.9,507.0 L552.1,503.7 L553.2,501.8 L554.4,498.9 L555.5,499.2 L556.7,500.8 L557.8,502.5 L558.9,502.0 L560.1,498.9 L560.9,496.5 L561.4,495.8 L561.9,495.5 L562.4,495.3 L562.9,495.1 L563.4,494.8 L563.9,494.5 L564.4,494.2 L564.9,493.7 L565.4,493.2 L565.9,492.6 L566.4,491.9 L566.9,491.0 L567.4,489.9 L567.9,489.6 L568.4,488.9 L568.9,489.0 L569.4,490.1 L569.9,492.1 L570.4,493.5 L570.9,493.4 L571.4,491.5 L571.9,487.1 L572.4,482.7 L572.9,478.2 L573.4,474.7 L573.9,470.1 L574.4,463.6 L574.9,455.1 L575.4,445.1 L575.9,434.6 L576.4,424.8 L576.9,415.6 L577.4,406.9 L577.9,398.8 L578.4,393.4 L578.9,389.4 L579.4,387.4 L579.9,386.8 L580.4,386.9 L580.9,388.0 L581.4,389.7 L581.9,394.8 L582.4,403.0 L582.9,414.9 L583.4,424.6 L583.9,433.1 L584.4,444.9 L584.9,454.1 L585.4,458.2 L585.9,460.4 L586.4,463.6 L586.9,468.6 L587.4,475.7 L587.9,478.5 L588.4,479.3 L588.9,479.0 L589.4,479.4 L589.9,480.0 L590.4,481.2 L590.9,481.8 L591.4,482.3 L591.9,483.3 L592.4,484.2 L592.9,485.8 L593.4,486.2 L593.9,487.2 L594.4,486.7 L594.9,483.3 L595.4,476.9 L595.9,471.0 L596.4,464.1 L596.9,458.6 L597.4,454.6 L597.9,451.8 L598.4,450.1 L598.9,448.8 L599.4,448.6 L599.9,450.3 L600.4,452.7 L600.9,457.3 L601.4,465.5 L601.9,470.2 L602.4,472.2 L602.9,473.1 L603.4,473.5 L603.9,471.9 L604.4,469.7 L604.9,466.4 L605.4,460.9 L605.9,454.6 L606.4,447.1 L606.9,437.8 L607.4,427.5 L607.9,416.6 L608.4,405.5 L608.9,396.2 L609.4,390.5 L609.9,386.3 L610.4,384.1 L610.9,382.3 L611.4,381.0 L611.9,380.6 L612.4,382.2 L612.9,384.6 L613.4,388.2 L613.9,393.7 L614.4,396.0 L614.9,397.1 L615.4,397.1 L615.9,395.8 L616.4,392.5 L616.9,391.1 L617.4,390.0 L617.9,389.7 L618.4,389.8 L618.9,390.6 L619.4,392.1 L619.9,395.8 L620.4,401.7 L620.9,407.5 L621.4,415.6 L621.9,427.0 L622.4,440.4 L622.9,452.0 L623.4,459.2 L623.9,464.6 L624.4,469.1 L624.9,473.9 L625.4,478.3 L625.9,481.7 L626.4,483.7 L626.9,485.0 L627.4,486.7 L627.9,488.7 L628.4,492.5 L628.9,495.9 L629.4,497.1 L629.9,496.9 L630.4,497.1 L630.9,497.3 L631.4,497.4 L631.9,496.7 L632.0,496.6 L633.2,497.8 L634.3,494.7 L635.5,492.9 L636.6,495.5 L637.8,497.1 L638.9,498.2 L640.0,500.1 L641.2,500.6 L642.3,501.5 L643.5,500.5 L644.6,499.3 L645.8,499.5 L646.9,501.2 L648.0,504.0 L649.2,504.0 L650.3,503.5 L651.5,502.0 L652.6,500.1 L653.8,500.6 L654.9,501.7 L656.0,505.1 L657.2,503.5 L658.3,499.6 L659.5,502.9 L660.6,504.3 L661.8,500.8 L662.9,502.3 L664.0,501.9 L665.2,501.0 L666.3,504.7 L667.5,502.6 L668.6,500.6 L669.7,503.1 L670.9,502.3 L672.0,503.5 L673.2,502.1 L674.3,500.9 L675.5,502.7 L676.6,502.1 L677.7,502.2 L678.9,500.4 L680.0,502.5 L681.2,502.6 L682.3,501.9 L683.5,503.6 L684.6,503.3 L685.7,503.9 L686.9,505.0 L688.0,502.7 L689.2,502.0 L690.3,501.9 L691.5,501.4 L692.6,504.0 L693.7,507.0 L694.9,506.4 L696.0,503.3 L697.2,501.9 L698.3,502.7 L699.5,500.6 L700.6,500.9 L701.7,502.8 L702.9,499.5 L704.0,494.6 L705.2,493.7 L706.3,497.2 L707.4,497.2 L708.6,495.1 L709.7,495.8 L710.9,497.9 L712.0,500.9 L713.2,501.8 L714.3,500.7 L715.4,499.2 L716.6,497.8 L717.7,501.5 L718.9,504.8 L720.0,504.2 L721.2,504.2 L722.3,503.7 L723.4,502.8 L724.6,502.7 L725.7,501.8 L726.9,502.6 L728.0,505.8 L729.2,508.0 L730.3,508.3 L731.4,507.6 L732.6,508.9 L733.7,506.9 L734.9,504.5 L736.0,505.8 L737.2,507.4 L738.3,508.2 L739.4,508.6 L740.6,503.9 L741.7,504.6 L742.9,507.3 L744.0,503.5 L745.1,503.0 L746.3,504.1 L747.4,503.2 L748.6,504.1 L749.7,503.8 L750.9,500.5 L752.0,502.4 L753.1,505.5 L754.3,504.2 L755.4,501.8 L756.6,500.3 L757.7,500.9 L758.9,503.4 L760.0,506.1 L761.1,505.0 L762.3,503.1 L763.4,504.6 L764.6,504.9 L765.7,502.8 L766.9,501.8 L768.0,503.3 L769.1,504.4 L770.3,504.8 L771.4,505.6 L772.6,504.5 L773.7,502.1 L774.8,497.9 L776.0,499.6 L777.1,503.3 L778.3,502.6 L779.4,505.2 L780.6,505.4 L781.7,505.3 L782.8,504.2 L784.0,500.9 L785.1,502.4 L786.3,504.9 L787.4,503.3 L788.6,501.8 L789.7,503.5 L790.8,503.0 L792.0,505.3 L793.1,505.5 L794.3,502.2 L795.4,502.7 L796.6,503.6 L797.7,505.1 L798.8,504.4 L800.0,502.9 L801.1,503.8 L802.3,504.8 L803.4,503.3 L804.6,500.6 L805.7,500.8 L806.8,501.1 L808.0,499.4 L809.1,497.9 L810.3,499.0 L811.4,500.1 L812.5,500.7 L813.7,500.3 L814.8,499.5 L816.0,498.7 L817.1,499.8 L818.3,501.1 L819.4,501.2 L820.5,498.8 L821.7,496.5 L822.8,495.0 L824.0,491.5 L825.1,488.5 L826.3,485.0 L827.4,482.0 L828.5,482.8 L829.7,488.9 L830.8,494.4 L832.0,498.2 L833.1,499.1 L834.3,497.6 L835.4,500.6 L836.5,504.2 L837.7,502.7 L838.8,502.4 L840.0,505.3 L841.1,504.4 L842.3,501.2 L843.4,503.3 L844.5,503.8 L845.7,501.0 L846.8,500.1 L848.0,501.9 L849.1,500.7 L850.2,499.8 L851.4,504.0 L852.5,503.7 L853.7,503.7 L854.8,504.2 L856.0,504.3 L857.1,504.6 L858.2,503.7 L859.4,503.3 L860.5,501.7 L861.7,502.3 L862.8,503.0 L864.0,502.4 L865.1,504.9 L866.2,506.2 L867.4,503.2 L868.5,502.8 L869.7,502.5 L870.8,498.8 L872.0,499.7 L873.1,503.4 L874.2,503.1 L875.4,502.3 L876.5,505.3 L877.7,505.0 L878.8,503.2 L880.0,507.8 L881.1,508.1 L882.2,505.9 L883.4,504.3 L884.5,504.1 L885.7,503.4 L886.8,503.4 L887.9,504.5 L889.1,507.0 L890.2,506.5 L891.4,502.6 L892.5,503.3 L893.7,506.4 L894.8,506.9 L895.9,501.2 L897.1,498.2 L898.2,498.1 L899.4,494.8 L900.5,490.0 L901.7,487.5 L902.8,488.4 L903.9,488.9 L905.1,488.2 L906.2,485.3 L907.4,485.3 L908.5,485.5 L909.7,485.6 L910.8,487.4 L911.9,489.5 L913.1,491.8 L914.2,492.8 L915.4,494.1 L916.5,497.2 L917.6,498.3 L918.8,497.9 L919.9,497.3 L921.1,497.3 L922.2,497.6 L923.4,499.8 L924.5,500.1 L925.6,496.5 L926.8,497.6 L927.9,495.4 L929.1,489.7 L930.2,487.2 L931.4,484.2 L932.5,476.6 L933.6,472.0 L934.8,473.7 L935.9,475.6 L937.1,482.1 L938.2,490.2 L939.4,495.7 L940.5,498.3 L941.6,498.7 L942.8,499.8 L943.9,501.0 L945.1,502.5 L946.2,502.8 L947.4,503.2 L948.5,501.3 L949.6,500.2 L950.8,505.4 L951.9,507.3 L953.1,503.0 L954.2,502.7 L955.3,505.4 L956.5,503.3 L957.6,504.3 L958.8,503.4 L959.9,499.8 L961.1,502.8 L962.2,502.9 L963.3,503.1 L964.5,505.6 L965.6,504.1 L966.8,502.6 L967.9,503.6 L969.1,503.0 L970.2,504.6 L971.3,506.4 L972.5,505.9 L973.6,504.0 L974.8,501.9 L975.9,502.4 L977.1,505.2 L978.2,505.8 L979.3,503.6 L980.5,505.6 L981.6,507.0 L982.8,504.4 L983.9,502.6 L985.1,502.4 L986.2,502.0 L987.3,501.0 L988.5,500.7 L989.6,499.8 L990.8,500.5 L991.9,499.7 L993.0,498.5 L994.2,494.7 L995.3,493.9 L996.5,497.6 L997.6,498.9 L998.8,500.2 L999.9,501.4 L1001.0,501.2 L1002.2,501.3 L1003.3,500.4 L1004.5,499.2 L1005.6,496.5 L1006.8,490.2 L1007.9,485.8 L1009.0,480.4 L1010.2,472.4 L1011.3,468.3 L1012.5,466.0 L1013.6,467.3 L1014.8,466.0 L1015.9,466.5 L1017.0,470.8 L1018.2,469.6 L1019.3,469.7 L1020.5,467.9 L1021.6,462.4 L1022.8,460.4 L1023.9,459.8 L1025.0,463.9 L1026.2,470.7 L1027.3,474.0 L1028.5,480.0 L1029.6,489.8 L1030.7,493.1 L1031.9,496.9 L1033.0,502.1 L1034.2,503.0 L1035.3,503.4 L1036.5,505.2 L1037.6,505.8 L1038.7,502.8 L1039.9,501.1 L1041.0,506.3 L1042.2,509.9 L1043.3,505.7 L1044.5,503.3 L1045.6,504.3 L1046.7,503.1 L1047.9,505.2 L1049.0,504.7 L1050.2,502.5 L1051.3,503.4 L1052.5,503.7 L1053.6,503.2 L1054.7,503.9 L1055.9,505.6 L1057.0,504.4 L1058.2,503.5 L1059.3,506.2 L1060.4,504.9 L1061.6,501.8 L1062.7,501.6 L1063.9,503.0 L1065.0,504.2 L1066.2,504.9 L1067.3,506.8 L1068.4,506.2 L1069.6,505.0 L1070.7,505.8 L1071.9,503.8 L1073.0,505.0 L1074.2,508.1 L1075.3,506.8 L1076.4,503.8 L1077.6,503.3 L1078.7,505.1 L1079.9,505.9 L1081.0,506.2 L1082.2,506.4 L1083.3,504.3 L1084.4,501.8 L1085.6,501.8 L1086.7,503.3 L1087.9,501.1 L1089.0,501.6 L1090.2,507.4 L1091.3,506.9 L1092.4,504.0 L1093.6,503.0 L1094.7,504.7 L1095.9,504.9 L1097.0,501.4 L1098.1,503.2 L1099.3,506.0 L1100.4,507.1 L1101.6,505.6 L1102.7,502.3 L1103.9,501.7 L1105.0,501.8 L1106.1,500.9 L1107.3,501.8 L1108.4,502.4 L1109.6,503.7 L1110.7,506.4 L1111.9,505.0 L1113.0,505.2 L1114.1,504.8 L1115.3,502.3 L1116.4,502.3 L1117.6,504.8 L1118.7,506.1 L1119.9,503.1 L1121.0,503.3 L1122.1,505.0 L1123.3,503.7 L1124.4,503.7 L1125.6,501.7 L1126.7,502.4 L1127.9,505.7 L1129.0,503.2 L1130.1,501.3 L1131.3,502.7 L1132.4,503.1 L1133.6,503.1 L1134.7,501.3 L1135.8,500.5 L1137.0,502.3 L1138.1,504.5 L1139.3,503.6 L1140.4,502.5 L1141.6,502.5 L1142.7,503.6 L1143.8,507.0 L1145.0,505.8 L1146.1,502.1 L1147.3,501.7 L1148.4,500.9 L1149.6,500.8 L1150.7,503.4 L1151.8,503.9 L1153.0,503.6 L1154.1,503.2 L1155.3,503.3 L1156.4,504.3 L1157.6,504.5 L1158.7,505.0 L1159.8,507.1 L1161.0,506.8 L1162.1,507.8 L1163.3,507.8 L1164.4,504.0 L1165.6,502.2 L1166.7,502.7 L1167.8,506.0 L1169.0,508.6 L1170.1,504.9 L1171.3,504.5 L1172.4,506.1 L1173.5,507.1 L1174.7,508.4 L1175.8,504.7 L1177.0,504.2 L1178.1,505.0 L1179.3,506.1 L1180.4,507.2 L1181.5,504.5 L1182.7,503.1 L1183.8,504.3 L1185.0,504.8 L1186.1,505.6 L1187.3,504.7 L1188.4,501.7 L1189.5,504.4 L1190.7,505.6 L1191.8,503.3 L1193.0,503.8 L1194.1,502.5 L1195.3,500.4 L1196.4,503.5 L1197.5,504.3 L1198.7,501.6 L1199.8,504.4 L1201.0,505.7 L1202.1,504.3 L1203.2,505.6 L1204.4,504.6 L1205.5,504.9 L1206.7,507.6 L1207.8,509.1 L1209.0,507.4 L1210.1,505.1 L1211.2,505.2 L1212.4,506.1 L1213.5,505.9 L1214.7,504.2 L1215.8,503.6 L1217.0,506.3 L1218.1,507.3 L1219.2,505.2 L1220.4,505.3 L1221.5,507.6 L1222.7,506.5 L1223.8,507.2 L1225.0,506.0 L1226.1,507.4 L1227.2,506.9 L1228.4,504.9 L1229.5,508.1 L1230.7,507.1 L1231.8,507.2 L1233.0,506.9 L1234.1,503.5 L1235.2,504.5 L1236.4,505.7 L1237.5,503.6 L1238.7,503.7 L1239.8,504.3 L1240.9,502.7 L1242.1,500.0 L1243.2,500.4 L1244.4,501.4 L1245.5,498.4 L1246.7,500.7 L1247.8,501.7 L1248.9,499.8 L1250.1,500.7 L1251.2,494.7 L1252.4,491.4 L1253.5,491.0 L1254.7,491.1 L1255.8,492.0 L1256.9,491.7 L1258.1,493.7 L1259.2,493.2 L1260.4,492.8 L1261.5,491.1 L1262.7,492.3 L1263.8,494.6 L1264.9,494.9 L1266.1,495.7 L1267.2,497.4 L1268.4,496.5 L1269.5,495.6 L1270.7,497.0 L1271.8,496.2 L1272.9,494.6 L1274.1,493.2 L1275.2,494.0 L1276.4,494.0 L1277.5,493.7 L1278.6,492.8 L1279.8,493.2 L1280.9,492.5 L1282.1,491.2 L1283.2,492.0 L1284.4,495.7 L1285.5,494.7 L1286.6,491.0 L1287.8,494.6 L1288.9,499.1 L1290.1,502.4 L1291.2,501.4 L1292.4,500.6 L1293.5,500.3 L1294.6,502.4 L1295.8,504.7 L1296.9,501.2 L1298.1,501.7 L1299.2,503.4 L1300.4,502.6 L1301.5,502.2 L1302.6,503.0 L1303.8,501.9 L1304.9,502.0 L1306.1,501.8 L1307.2,499.9 L1308.4,499.5 L1309.5,499.2 L1310.6,498.3 L1311.8,496.0 L1312.9,495.8 L1314.1,494.6 L1315.2,495.9 L1316.3,498.1 L1317.5,495.6 L1318.6,492.0 L1319.8,487.9 L1320.9,487.4 L1322.1,483.5 L1323.2,474.6 L1324.3,469.2 L1325.5,466.6 L1326.6,467.7 L1327.8,471.3 L1328.9,470.1 L1330.1,466.8 L1331.2,468.3 L1332.3,470.1 L1333.5,469.6 L1334.6,468.3 L1335.8,468.8 L1336.9,473.6 L1338.1,480.0 L1339.2,485.4 L1340.3,487.9 L1341.5,490.1 L1342.6,496.0 L1343.8,499.2 L1344.9,499.8 L1346.0,502.2 L1347.2,503.3 L1348.3,505.0 L1349.5,505.4 L1350.6,500.8 L1351.8,500.7 L1352.9,503.2 L1354.0,500.1 L1355.2,501.6 L1356.3,502.4 L1357.5,500.8 L1358.6,501.5 L1359.8,499.8 L1360.9,500.3 L1362.0,501.8 L1363.2,501.1 L1364.3,500.2 L1365.5,502.1 L1366.6,503.3 L1367.8,504.6 L1368.9,502.7 L1370.0,502.7 L1371.2,504.2 L1372.3,500.5 L1373.5,499.7 L1374.6,502.7 L1375.8,505.0 L1376.9,505.7 L1378.0,504.1 L1379.2,503.2 L1380.3,504.4 L1381.5,501.4 L1382.6,502.5 L1383.7,507.0 L1384.9,506.3 L1386.0,505.2 L1387.2,504.3 L1388.3,505.1 L1389.5,504.9 L1390.6,503.5 L1391.7,504.7 L1392.9,508.5 L1394.0,507.3 L1395.2,505.2 L1396.3,506.9 L1397.5,506.3 L1398.6,507.3 L1399.7,507.9 L1400.9,506.1 L1402.0,505.7 L1403.2,505.2 L1404.3,505.9 L1405.5,506.5 L1406.6,506.5 L1407.7,506.3 L1408.9,504.7 L1410.0,504.7 L1411.2,506.6 L1412.3,506.5 L1413.5,504.6 L1414.6,502.8 L1415.7,503.1 L1416.9,505.5 L1418.0,506.7 L1419.2,504.0 L1420.3,503.9 L1421.4,507.8 L1422.6,507.0 L1423.7,508.1 L1424.9,506.6 L1426.0,504.2 L1427.2,504.9 L1428.3,506.2 L1429.4,507.5 L1430.6,505.1 L1431.7,503.0 L1432.9,500.3 L1434.0,500.2 L1435.2,506.2 L1436.3,507.7 L1437.4,505.6 L1438.6,503.9 L1439.7,503.7 L1440.9,504.3 L1442.0,504.2 L1443.2,504.0 L1444.3,501.8 L1445.4,503.2 L1446.6,507.8 L1447.7,508.1 L1448.9,502.9 L1450.0,501.3 L1451.2,503.6 L1452.3,505.2 L1453.4,503.4 L1454.6,501.6 L1455.7,503.2 L1456.9,504.8 L1458.0,505.2 L1459.1,504.9 L1460.3,504.1 L1461.4,502.3 L1462.6,505.1 L1463.7,508.6 L1464.9,506.4 L1466.0,504.4 L1467.1,506.6 L1468.3,507.4 L1469.4,506.0 L1470.6,505.6 L1471.7,505.8 L1472.9,505.1 L1474.0,503.3 L1475.1,501.8 L1476.3,502.6 L1477.4,503.6 L1478.6,505.5 L1479.7,506.6 L1480.9,504.7 L1482.0,503.7 L1483.1,503.5 L1484.3,503.1 L1485.4,503.8 L1486.6,503.5 L1487.7,505.8 L1488.8,507.0 L1490.0,505.6 L1491.1,504.6 L1492.3,504.8 L1493.4,505.3 L1494.6,505.0 L1495.7,504.7 L1496.8,503.6 L1498.0,504.5 L1499.1,505.3 L1500.3,504.8 L1501.4,504.0 L1502.6,504.6 L1503.7,506.0 L1504.8,506.4 L1506.0,507.3 L1507.1,506.3 L1508.3,504.4 L1509.4,505.6 L1510.6,504.0 L1511.7,504.4 L1512.8,505.3 L1514.0,504.1 L1515.1,507.3 L1516.3,507.6 L1517.4,507.3 L1518.6,507.5 L1519.7,504.4 L1520.8,501.8 L1522.0,501.9 L1523.1,506.6 L1524.3,508.2 L1525.4,504.2 L1526.5,503.3 L1527.7,503.5 L1528.8,504.7 L1530.0,507.5 L1531.1,508.4 L1532.3,508.1 L1533.4,504.8 L1534.5,505.6 L1535.7,506.4 L1536.8,504.3 L1538.0,504.3 L1539.1,505.2 L1540.3,505.9 L1541.4,502.7 L1542.5,503.5 L1543.7,503.9 L1544.8,499.1 L1546.0,498.1 L1547.1,496.2 L1548.3,498.9 L1549.4,499.8 L1550.5,496.2 L1551.7,495.1 L1552.8,492.9 L1554.0,491.8 L1555.1,493.3 L1556.3,493.6 L1557.4,495.9 L1558.5,497.3 L1559.7,497.0 L1560.8,502.0 L1562.0,504.7 L1563.1,506.0 L1564.2,505.6 L1565.4,504.1 L1566.5,501.6 L1567.7,500.8 L1568.8,504.3 L1570.0,508.2 L1571.1,506.9 L1572.2,506.1 L1573.4,506.3 L1574.5,505.4 L1575.7,502.3 L1576.8,503.5 L1578.0,506.4 L1579.1,501.8 L1580.2,502.5 L1581.4,506.1 L1582.5,503.3 L1583.7,505.6 L1584.8,510.1 L1586.0,509.0 L1587.1,506.3 L1588.2,503.8 L1589.4,504.4 L1590.5,502.6 L1591.7,502.7 L1592.8,505.6 L1594.0,505.5 L1595.1,504.2 L1596.2,503.7 L1597.4,505.7 L1598.5,503.5 L1599.7,501.1 L1600.8,502.1 L1601.9,504.9 L1603.1,507.2 L1604.2,505.7 L1605.4,505.0 L1606.5,504.5 L1607.7,504.2 L1608.8,503.0 L1609.9,503.3 L1611.1,503.3 L1612.2,501.4 L1613.4,500.8 L1614.5,499.8 L1615.7,496.8 L1616.8,494.7 L1617.9,494.8 L1619.1,493.3 L1620.2,491.2 L1621.4,490.0 L1622.5,490.0 L1623.7,489.0 L1624.8,489.0 L1625.9,492.3 L1627.1,494.9 L1628.2,496.4 L1629.4,495.0 L1630.5,494.9 L1631.6,496.7 L1632.8,496.2 L1633.9,494.2 L1635.1,491.8 L1636.2,493.6 L1637.4,493.4 L1638.5,493.1 L1639.6,494.2 L1640.8,495.8 L1641.9,499.3 L1643.1,498.6 L1644.2,496.8 L1645.4,500.4 L1646.5,503.0 L1647.6,501.9 L1648.8,501.4 L1649.9,503.6 L1651.1,505.6 L1652.2,503.2 L1653.4,500.3 L1654.5,501.5 L1655.6,503.0 L1656.8,503.1 L1657.9,503.8 L1659.1,504.5 L1660.2,505.3 L1661.4,505.6 L1662.5,505.3 L1663.6,503.4 L1664.8,503.1 L1665.9,503.8 L1667.1,504.5 L1668.2,504.7 L1669.3,507.8 L1670.5,511.1 L1671.6,507.8 L1672.8,507.7 L1673.9,506.5 L1675.1,503.9 L1676.2,505.6 L1677.3,505.5 L1678.5,506.5 L1679.6,507.8 L1680.8,506.6 L1681.9,507.7 L1683.1,505.9 L1684.2,504.8" fill="none" stroke="#0000ff" stroke-width="3.9" stroke-linejoin="round" stroke-linecap="round" clip-path="url(#plotclip)"/>
<path d="M113.4,329.4 L114.3,328.5 L115.1,328.7 L116.0,328.4 L116.8,329.5 L117.7,329.5 L118.5,329.1 L119.4,328.3 L120.3,327.7 L121.1,328.7 L122.0,329.9 L122.8,330.0 L123.7,329.1 L124.5,330.1 L125.4,328.8 L126.3,327.8 L127.1,328.3 L128.0,329.2 L128.8,329.0 L129.7,329.1 L130.5,330.5 L131.4,329.3 L132.2,329.1 L133.1,331.1 L134.0,331.6 L134.8,329.5 L135.7,327.6 L136.5,327.7 L137.4,329.2 L138.2,329.2 L139.1,330.0 L140.0,330.2 L140.8,330.3 L141.7,330.6 L142.5,329.8 L143.4,329.2 L144.2,329.2 L145.1,329.0 L146.0,328.8 L146.8,329.0 L147.7,328.5 L148.5,330.3 L149.4,330.7 L150.2,329.4 L151.1,330.0 L152.0,329.9 L152.8,330.4 L153.7,330.0 L154.5,328.7 L155.4,328.8 L156.2,327.6 L157.1,327.6 L158.0,329.0 L158.8,329.5 L159.7,329.2 L160.5,329.3 L161.4,328.7 L162.2,328.5 L163.1,329.3 L164.0,327.4 L164.8,326.9 L165.7,328.0 L166.5,327.8 L167.4,328.0 L168.2,328.5 L169.1,328.3 L169.9,329.5 L170.8,329.3 L171.7,328.2 L172.5,328.8 L173.4,330.2 L174.2,330.5 L175.1,331.3 L175.9,331.4 L176.8,330.5 L177.7,328.8 L178.5,328.3 L179.4,330.5 L180.2,329.8 L181.1,329.0 L181.9,329.4 L182.8,329.1 L183.7,328.8 L184.5,329.2 L185.4,328.8 L186.2,328.3 L187.1,329.1 L187.9,329.5 L188.8,329.6 L189.7,329.3 L190.5,328.2 L191.4,327.9 L192.2,328.0 L193.1,328.5 L193.9,327.8 L194.8,327.9 L195.7,328.8 L196.5,329.0 L197.4,328.9 L198.2,329.1 L199.1,327.9 L199.9,327.7 L200.8,330.2 L201.7,330.6 L202.5,330.4 L203.4,329.5 L204.2,327.6 L205.1,328.8 L205.9,329.3 L206.8,328.9 L207.6,328.8 L208.5,327.8 L209.4,328.4 L210.2,330.6 L211.1,329.8 L211.9,328.8 L212.8,328.7 L213.6,328.5 L214.5,329.2 L215.4,331.0 L216.2,330.1 L217.1,329.0 L217.9,330.5 L218.8,331.1 L219.6,329.6 L220.5,328.7 L221.4,329.3 L222.2,328.9 L223.1,329.6 L223.9,330.8 L224.8,330.9 L225.6,331.0 L226.5,330.6 L227.4,330.3 L228.2,330.3 L229.1,330.1 L229.9,330.1 L230.8,329.2 L231.6,328.2 L232.5,327.7 L233.4,328.5 L234.2,329.3 L235.1,329.7 L235.9,329.4 L236.8,328.3 L237.6,329.2 L238.5,329.7 L239.3,329.5 L240.2,330.0 L241.1,329.7 L241.9,330.0 L242.8,329.4 L243.6,330.3 L244.5,331.2 L245.3,330.2 L246.2,330.4 L247.1,329.9 L247.9,330.0 L248.8,330.4 L249.6,330.4 L250.5,330.7 L251.3,329.1 L252.2,327.5 L253.1,327.2 L253.9,327.6 L254.8,328.3 L255.6,328.1 L256.5,328.3 L257.3,330.1 L258.2,330.7 L259.1,330.5 L259.9,329.1 L260.8,329.6 L261.6,330.4 L262.5,330.3 L263.3,330.2 L264.2,330.2 L265.1,330.8 L265.9,329.6 L266.8,330.1 L267.6,332.0 L268.5,330.4 L269.3,329.3 L270.2,329.5 L271.1,330.2 L271.9,330.0 L272.8,330.1 L273.6,329.6 L274.5,329.7 L275.3,330.8 L276.2,330.7 L277.0,329.8 L277.9,328.6 L278.8,327.0 L279.6,327.6 L280.5,329.1 L281.3,329.2 L282.2,326.7 L283.0,325.7 L283.9,326.5 L284.8,325.2 L285.6,326.1 L286.5,327.8 L287.3,328.1 L288.2,328.9 L289.0,328.1 L289.9,327.1 L290.8,328.8 L291.6,329.2 L292.5,328.3 L293.3,328.9 L294.2,328.8 L295.0,329.9 L295.9,330.4 L296.8,330.1 L297.6,328.5 L298.5,326.5 L299.3,327.7 L300.2,330.0 L301.0,329.2 L301.9,328.7 L302.8,328.2 L303.6,326.8 L304.5,326.8 L305.3,328.6 L306.2,330.3 L307.0,330.5 L307.9,330.2 L308.8,330.2 L309.6,329.4 L310.5,328.6 L311.3,329.4 L312.2,330.3 L313.0,329.8 L313.9,328.5 L314.7,330.1 L315.6,330.8 L316.5,329.6 L317.3,330.2 L318.2,330.0 L319.0,329.6 L319.9,328.0 L320.7,328.0 L321.6,329.4 L322.5,330.5 L323.3,329.8 L324.2,329.7 L325.0,330.1 L325.9,329.3 L326.7,329.0 L327.6,329.6 L328.5,330.0 L329.3,328.8 L330.2,328.8 L331.0,329.3 L331.9,328.8 L332.7,329.4 L333.6,329.4 L334.5,329.5 L335.3,329.0 L336.2,328.4 L337.0,330.4 L337.9,330.8 L338.7,329.1 L339.6,329.1 L340.5,330.0 L341.3,329.0 L342.2,329.4 L343.0,329.9 L343.9,328.6 L344.7,328.0 L345.6,328.6 L346.4,329.9 L347.3,328.0 L348.2,327.7 L349.0,328.6 L349.9,326.4 L350.7,326.4 L351.6,329.4 L352.4,327.1 L353.3,324.9 L354.2,326.2 L355.0,324.9 L355.9,324.8 L356.7,325.4 L357.6,325.2 L358.4,326.0 L359.3,325.5 L360.2,324.4 L361.0,323.8 L361.9,323.3 L362.7,324.0 L363.6,324.2 L364.4,321.6 L365.3,319.5 L366.2,318.3 L367.0,315.1 L367.9,310.5 L368.7,307.9 L369.6,308.8 L370.4,312.3 L371.3,315.0 L372.2,317.7 L373.0,321.6 L373.9,324.7 L374.7,325.4 L375.6,325.3 L376.4,326.5 L377.3,325.8 L378.2,325.5 L379.0,327.1 L379.9,326.0 L380.7,326.1 L381.6,327.1 L382.4,327.8 L383.3,328.1 L384.1,328.8 L385.0,329.3 L385.9,328.6 L386.7,329.4 L387.6,328.8 L388.4,327.8 L389.3,329.9 L390.1,329.7 L391.0,328.9 L391.9,329.1 L392.7,329.2 L393.6,329.9 L394.4,329.2 L395.3,327.8 L396.1,329.3 L397.0,330.8 L397.9,330.1 L398.7,329.2 L399.6,328.9 L400.4,329.4 L401.3,328.2 L402.1,328.0 L403.0,329.2 L403.9,329.9 L404.7,329.7 L405.6,329.4 L406.4,329.7 L407.3,330.1 L408.1,329.0 L409.0,329.2 L409.9,329.7 L410.7,329.1 L411.6,328.4 L412.4,329.5 L413.3,330.6 L414.1,328.7 L415.0,328.0 L415.9,329.3 L416.7,329.1 L417.6,327.2 L418.4,327.6 L419.3,329.2 L420.1,329.1 L421.0,327.6 L421.8,327.9 L422.7,328.6 L423.6,327.4 L424.4,327.4 L425.3,328.3 L426.1,328.4 L427.0,327.8 L427.8,327.9 L428.7,327.5 L429.6,327.9 L430.4,329.5 L431.3,329.3 L432.1,328.3 L433.0,330.0 L433.8,329.9 L434.7,328.4 L435.6,328.5 L436.4,330.3 L437.3,330.9 L438.1,329.9 L439.0,329.8 L439.8,330.6 L440.7,330.2 L441.6,328.2 L442.4,328.0 L443.3,328.1 L444.1,328.4 L445.0,327.6 L445.8,326.9 L446.7,327.5 L447.6,327.1 L448.4,326.0 L449.3,324.8 L450.1,324.3 L451.0,325.1 L451.8,325.3 L452.7,324.3 L453.5,323.4 L454.4,322.5 L455.3,323.9 L456.1,325.0 L457.0,324.9 L457.8,324.1 L458.7,323.3 L459.5,324.3 L460.4,324.6 L461.3,325.7 L462.1,326.3 L463.0,326.4 L463.8,327.0 L464.7,327.5 L465.5,327.1 L466.4,326.5 L467.3,328.1 L468.1,329.4 L469.0,328.4 L469.8,327.7 L470.7,328.8 L471.5,329.8 L472.4,329.0 L473.3,327.1 L474.1,327.0 L475.0,328.1 L475.8,327.4 L476.7,326.8 L477.5,326.5 L478.4,325.8 L479.3,325.6 L480.1,325.0 L481.0,324.3 L481.8,323.5 L482.7,322.8 L483.5,323.0 L484.4,322.1 L485.3,320.5 L486.1,319.6 L487.0,318.9 L487.8,318.1 L488.7,318.6 L489.5,319.2 L490.4,318.6 L491.2,319.0 L492.1,319.3 L493.0,319.4 L493.8,319.8 L494.7,318.8 L495.5,319.2 L496.4,320.4 L497.2,321.6 L498.1,323.2 L499.0,323.6 L499.8,324.3 L500.7,323.2 L501.5,322.6 L502.4,323.4 L503.2,325.0 L504.1,325.8 L505.0,326.4 L505.8,326.2 L506.7,327.7 L507.5,329.0 L508.4,328.4 L509.2,327.7 L510.1,328.0 L511.0,328.2 L511.8,328.4 L512.7,329.6 L513.5,328.0 L514.4,326.6 L515.2,328.1 L516.1,329.6 L517.0,329.7 L517.8,328.3 L518.7,327.8 L519.5,328.6 L520.4,328.2 L521.2,326.6 L522.1,327.9 L523.0,328.6 L523.8,328.6 L524.7,327.7 L525.5,327.1 L526.4,328.3 L527.2,329.3 L528.1,328.5 L528.9,327.3 L529.8,327.8 L530.7,327.8 L531.5,327.4 L532.4,328.3 L533.2,328.8 L534.1,327.3 L534.9,325.2 L535.8,324.8 L536.7,325.6 L537.5,325.6 L538.4,325.1 L539.2,323.7 L540.1,322.6 L540.9,321.6 L541.8,320.8 L542.7,320.2 L543.5,320.8 L544.4,322.3 L545.2,323.1 L546.1,323.9 L546.9,322.5 L547.8,323.7 L548.7,326.0 L549.5,324.9 L550.4,323.9 L551.2,324.7 L552.1,324.1 L552.9,323.5 L553.8,322.8 L554.7,322.4 L555.5,323.0 L556.0,323.4 L556.5,323.6 L557.0,324.0 L557.5,324.2 L558.0,324.6 L558.5,324.8 L559.0,325.2 L559.5,325.2 L560.0,325.4 L560.5,325.2 L561.0,325.2 L561.5,325.1 L562.0,325.0 L562.5,324.8 L563.0,324.5 L563.5,324.2 L564.0,323.9 L564.5,323.4 L565.0,323.0 L565.5,322.3 L566.0,321.5 L566.5,320.2 L567.0,319.0 L567.5,318.0 L568.0,316.8 L568.5,315.9 L569.0,314.8 L569.5,314.1 L570.0,313.2 L570.5,312.2 L571.0,311.0 L571.5,309.7 L572.0,307.7 L572.5,305.1 L573.0,302.3 L573.5,299.2 L574.0,295.4 L574.5,290.4 L575.0,284.1 L575.5,274.8 L576.0,263.1 L576.5,250.2 L577.0,236.8 L577.5,223.6 L578.0,214.1 L578.5,206.8 L579.0,197.5 L579.5,179.0 L580.0,154.9 L580.5,140.3 L581.0,129.3 L581.5,119.4 L582.0,112.3 L582.5,108.3 L583.0,107.0 L583.5,110.1 L584.0,119.3 L584.5,134.8 L585.0,148.6 L585.5,162.3 L586.0,175.8 L586.5,188.3 L587.0,199.0 L587.5,208.4 L588.0,216.8 L588.5,224.2 L589.0,231.6 L589.5,238.3 L590.0,243.4 L590.5,246.9 L591.0,249.5 L591.5,252.0 L592.0,254.6 L592.5,257.3 L593.0,259.8 L593.5,261.9 L594.0,263.6 L594.5,265.3 L595.0,266.8 L595.5,267.9 L596.0,268.0 L596.5,266.0 L597.0,261.8 L597.5,258.1 L598.0,256.0 L598.5,256.5 L599.0,257.8 L599.5,260.0 L600.0,262.6 L600.5,268.9 L601.0,277.2 L601.5,278.3 L602.0,279.1 L602.5,279.7 L603.0,280.3 L603.5,280.5 L604.0,280.5 L604.5,279.8 L605.0,276.7 L605.5,272.5 L606.0,268.6 L606.5,266.5 L607.0,265.6 L607.5,264.8 L608.0,264.2 L608.5,263.1 L609.0,261.2 L609.5,255.4 L610.0,246.3 L610.5,235.3 L611.0,221.4 L611.5,209.9 L612.0,195.0 L612.5,153.2 L613.0,107.1 L613.5,82.6 L614.0,63.5 L614.5,42.7 L615.0,17.7 L615.5,4.8 L616.0,17.7 L616.5,42.7 L617.0,63.5 L617.5,82.1 L618.0,107.0 L618.5,157.9 L619.0,199.8 L619.5,218.3 L620.0,231.7 L620.5,245.0 L621.0,259.5 L621.5,273.3 L622.0,284.1 L622.5,292.1 L623.0,298.7 L623.5,304.0 L624.0,307.9 L624.5,311.0 L625.0,313.7 L625.5,316.4 L626.0,318.7 L626.5,320.4 L627.0,321.1 L627.5,321.7 L628.0,322.3 L628.5,322.9 L629.0,323.3 L629.5,323.7 L630.0,324.1 L630.5,324.5 L631.0,324.8 L631.5,325.2 L632.0,325.8 L632.5,326.5 L633.0,327.0 L633.5,327.3 L634.0,327.1 L634.5,326.8 L635.0,326.5 L635.5,326.3 L636.0,325.8 L636.5,325.3 L637.0,324.7 L637.5,324.4 L638.0,323.9 L638.5,323.5 L639.0,323.2 L639.5,323.3 L640.0,323.3 L640.5,323.7 L641.0,324.1 L641.5,325.0 L642.0,325.4 L642.5,326.2 L643.0,326.6 L643.5,326.9 L644.0,327.1 L644.5,327.2 L645.0,327.4 L645.5,327.4 L646.0,327.7 L646.5,328.0 L647.0,328.2 L647.5,328.3 L648.0,328.5 L648.5,328.7 L649.0,328.7 L649.5,328.3 L650.0,328.0 L650.5,327.7 L651.0,327.2 L651.5,326.9 L652.0,326.6 L652.5,326.4 L653.2,326.1 L654.0,326.5 L654.9,326.1 L655.8,326.0 L656.6,327.5 L657.5,328.6 L658.3,327.7 L659.2,327.5 L660.0,327.9 L660.9,327.7 L661.8,326.7 L662.6,325.7 L663.5,328.3 L664.3,328.7 L665.2,328.7 L666.0,329.3 L666.9,327.8 L667.7,328.2 L668.6,328.6 L669.5,327.8 L670.3,327.4 L671.2,328.2 L672.0,328.5 L672.9,328.1 L673.7,327.8 L674.6,327.4 L675.5,327.7 L676.3,326.7 L677.2,326.6 L678.0,327.4 L678.9,327.6 L679.7,327.7 L680.6,328.0 L681.5,327.1 L682.3,328.0 L683.2,329.7 L684.0,328.9 L684.9,328.4 L685.7,328.0 L686.6,327.1 L687.5,327.6 L688.3,328.3 L689.2,329.1 L690.0,329.4 L690.9,329.5 L691.7,329.1 L692.6,329.3 L693.5,328.4 L694.3,327.3 L695.2,328.3 L696.0,330.0 L696.9,327.7 L697.7,326.0 L698.6,327.5 L699.5,326.9 L700.3,323.6 L701.2,320.5 L702.0,319.1 L702.9,318.6 L703.7,318.2 L704.6,318.9 L705.4,321.8 L706.3,324.5 L707.2,325.4 L708.0,325.9 L708.9,326.4 L709.7,326.9 L710.6,325.9 L711.4,326.7 L712.3,327.7 L713.2,328.0 L714.0,329.4 L714.9,328.3 L715.7,327.6 L716.6,328.3 L717.4,327.5 L718.3,328.6 L719.2,329.6 L720.0,328.0 L720.9,328.5 L721.7,329.4 L722.6,328.2 L723.4,327.8 L724.3,327.9 L725.2,328.0 L726.0,328.2 L726.9,328.4 L727.7,328.4 L728.6,329.4 L729.4,329.6 L730.3,329.0 L731.2,328.4 L732.0,328.0 L732.9,328.9 L733.7,329.1 L734.6,328.9 L735.4,329.5 L736.3,329.6 L737.2,329.7 L738.0,330.1 L738.9,330.2 L739.7,328.4 L740.6,327.4 L741.4,329.4 L742.3,330.1 L743.1,329.3 L744.0,329.4 L744.9,329.2 L745.7,328.7 L746.6,328.5 L747.4,330.4 L748.3,330.7 L749.1,328.8 L750.0,328.6 L750.9,329.1 L751.7,330.4 L752.6,330.7 L753.4,329.9 L754.3,328.9 L755.1,330.3 L756.0,331.0 L756.9,329.6 L757.7,330.0 L758.6,330.3 L759.4,329.7 L760.3,330.2 L761.1,331.5 L762.0,330.3 L762.9,329.2 L763.7,329.7 L764.6,330.2 L765.4,330.4 L766.3,330.4 L767.1,330.6 L768.0,330.1 L768.9,329.6 L769.7,330.0 L770.6,330.7 L771.4,329.5 L772.3,329.9 L773.1,330.5 L774.0,329.6 L774.8,329.2 L775.7,329.4 L776.6,330.5 L777.4,330.1 L778.3,330.4 L779.1,331.2 L780.0,330.3 L780.8,329.5 L781.7,330.2 L782.6,329.2 L783.4,328.5 L784.3,328.7 L785.1,328.0 L786.0,328.8 L786.8,329.7 L787.7,330.7 L788.6,329.7 L789.4,327.8 L790.3,328.6 L791.1,329.5 L792.0,330.2 L792.8,330.9 L793.7,330.3 L794.6,329.0 L795.4,328.9 L796.3,329.2 L797.1,328.9 L798.0,329.5 L798.8,330.0 L799.7,330.2 L800.6,330.4 L801.4,329.6 L802.3,328.7 L803.1,329.8 L804.0,330.5 L804.8,330.4 L805.7,329.6 L806.6,328.3 L807.4,328.5 L808.3,328.8 L809.1,327.1 L810.0,327.3 L810.8,326.6 L811.7,324.2 L812.5,323.7 L813.4,325.5 L814.3,327.5 L815.1,327.7 L816.0,327.6 L816.8,327.6 L817.7,327.9 L818.5,328.5 L819.4,328.4 L820.3,327.4 L821.1,328.0 L822.0,328.1 L822.8,326.8 L823.7,327.0 L824.5,327.5 L825.4,327.7 L826.3,328.0 L827.1,329.7 L828.0,329.3 L828.8,328.8 L829.7,329.1 L830.5,329.5 L831.4,330.0 L832.3,329.8 L833.1,330.7 L834.0,330.4 L834.8,329.7 L835.7,331.2 L836.5,329.8 L837.4,327.8 L838.3,328.8 L839.1,329.3 L840.0,329.1 L840.8,329.3 L841.7,329.3 L842.5,328.5 L843.4,329.1 L844.3,329.7 L845.1,329.2 L846.0,329.9 L846.8,329.9 L847.7,329.0 L848.5,328.3 L849.4,328.2 L850.2,329.5 L851.1,329.6 L852.0,329.3 L852.8,331.1 L853.7,330.7 L854.5,330.3 L855.4,329.4 L856.2,328.3 L857.1,328.6 L858.0,328.6 L858.8,329.7 L859.7,329.3 L860.5,330.0 L861.4,329.8 L862.2,328.7 L863.1,330.7 L864.0,330.5 L864.8,328.9 L865.7,329.0 L866.5,328.6 L867.4,327.6 L868.2,328.6 L869.1,329.7 L870.0,329.7 L870.8,329.4 L871.7,328.7 L872.5,327.6 L873.4,327.4 L874.2,327.2 L875.1,327.7 L876.0,328.1 L876.8,328.2 L877.7,326.4 L878.5,325.1 L879.4,325.8 L880.2,326.2 L881.1,327.2 L881.9,326.8 L882.8,325.4 L883.7,324.6 L884.5,323.3 L885.4,322.6 L886.2,321.9 L887.1,320.3 L887.9,319.3 L888.8,318.9 L889.7,317.8 L890.5,316.8 L891.4,316.2 L892.2,315.5 L893.1,314.9 L893.9,313.9 L894.8,312.9 L895.7,313.1 L896.5,313.1 L897.4,311.9 L898.2,310.5 L899.1,309.9 L899.9,309.6 L900.8,308.4 L901.7,308.2 L902.5,307.2 L903.4,307.0 L904.2,308.4 L905.1,308.2 L905.9,306.9 L906.8,306.1 L907.7,305.1 L908.5,304.3 L909.4,303.9 L910.2,303.8 L911.1,302.6 L911.9,301.5 L912.8,300.6 L913.7,300.0 L914.5,300.2 L915.4,299.5 L916.2,298.6 L917.1,298.8 L917.9,299.7 L918.8,302.1 L919.6,303.2 L920.5,305.8 L921.4,310.4 L922.2,312.2 L923.1,313.2 L923.9,313.8 L924.8,314.6 L925.6,314.8 L926.5,313.1 L927.4,310.3 L928.2,307.5 L929.1,302.2 L929.9,295.0 L930.8,286.8 L931.6,279.4 L932.5,275.9 L933.4,274.3 L934.2,277.9 L935.1,285.1 L935.9,292.5 L936.8,300.3 L937.6,307.8 L938.5,311.8 L939.4,315.6 L940.2,318.7 L941.1,320.8 L941.9,321.9 L942.8,321.8 L943.6,322.2 L944.5,320.7 L945.4,322.4 L946.2,324.7 L947.1,323.9 L947.9,323.0 L948.8,323.9 L949.6,324.0 L950.5,323.8 L951.4,323.7 L952.2,323.9 L953.1,322.3 L953.9,321.6 L954.8,323.2 L955.6,325.0 L956.5,326.1 L957.3,324.7 L958.2,323.3 L959.1,323.9 L959.9,325.2 L960.8,325.3 L961.6,326.1 L962.5,326.9 L963.3,328.2 L964.2,327.5 L965.1,325.9 L965.9,325.3 L966.8,326.2 L967.6,327.7 L968.5,326.9 L969.3,326.4 L970.2,328.0 L971.1,328.3 L971.9,327.8 L972.8,326.4 L973.6,326.5 L974.5,328.0 L975.3,328.4 L976.2,329.0 L977.1,327.8 L977.9,327.3 L978.8,328.3 L979.6,328.3 L980.5,329.0 L981.3,329.6 L982.2,329.0 L983.1,326.0 L983.9,324.8 L984.8,326.0 L985.6,326.3 L986.5,326.9 L987.3,328.2 L988.2,326.7 L989.0,326.0 L989.9,325.0 L990.8,323.3 L991.6,324.7 L992.5,325.4 L993.3,324.4 L994.2,323.1 L995.0,322.3 L995.9,322.1 L996.8,322.1 L997.6,320.3 L998.5,318.0 L999.3,318.5 L1000.2,319.3 L1001.0,318.6 L1001.9,315.0 L1002.8,314.2 L1003.6,314.9 L1004.5,316.0 L1005.3,316.6 L1006.2,314.8 L1007.0,313.4 L1007.9,313.0 L1008.8,312.2 L1009.6,309.1 L1010.5,306.8 L1011.3,303.6 L1012.2,297.7 L1013.0,290.3 L1013.9,281.2 L1014.8,268.6 L1015.6,252.1 L1016.5,234.7 L1017.3,219.2 L1018.2,206.9 L1019.0,200.6 L1019.9,200.9 L1020.8,210.3 L1021.6,226.8 L1022.5,244.5 L1023.3,261.3 L1024.2,275.6 L1025.0,288.1 L1025.9,299.1 L1026.7,307.2 L1027.6,313.5 L1028.5,317.9 L1029.3,320.2 L1030.2,321.8 L1031.0,322.7 L1031.9,323.0 L1032.7,324.5 L1033.6,325.6 L1034.5,325.4 L1035.3,326.4 L1036.2,326.7 L1037.0,325.8 L1037.9,327.6 L1038.7,328.2 L1039.6,327.0 L1040.5,327.2 L1041.3,328.5 L1042.2,328.3 L1043.0,327.5 L1043.9,328.7 L1044.7,329.7 L1045.6,328.9 L1046.5,328.2 L1047.3,329.5 L1048.2,328.4 L1049.0,328.5 L1049.9,329.3 L1050.7,329.1 L1051.6,329.4 L1052.5,328.6 L1053.3,328.9 L1054.2,329.0 L1055.0,329.0 L1055.9,328.2 L1056.7,327.6 L1057.6,328.3 L1058.5,329.5 L1059.3,330.0 L1060.2,329.5 L1061.0,328.1 L1061.9,327.5 L1062.7,328.4 L1063.6,328.5 L1064.4,328.5 L1065.3,329.0 L1066.2,329.0 L1067.0,329.4 L1067.9,329.2 L1068.7,327.0 L1069.6,327.4 L1070.4,328.8 L1071.3,328.1 L1072.2,329.0 L1073.0,329.2 L1073.9,329.5 L1074.7,329.9 L1075.6,328.6 L1076.4,327.5 L1077.3,328.6 L1078.2,329.6 L1079.0,330.5 L1079.9,329.9 L1080.7,329.5 L1081.6,330.7 L1082.4,330.2 L1083.3,329.5 L1084.2,330.7 L1085.0,330.0 L1085.9,330.1 L1086.7,332.2 L1087.6,330.4 L1088.4,329.7 L1089.3,331.2 L1090.2,330.5 L1091.0,328.8 L1091.9,329.4 L1092.7,329.9 L1093.6,329.6 L1094.4,329.3 L1095.3,329.3 L1096.1,330.5 L1097.0,330.6 L1097.9,330.1 L1098.7,331.3 L1099.6,331.5 L1100.4,331.1 L1101.3,330.7 L1102.1,329.2 L1103.0,328.9 L1103.9,327.8 L1104.7,327.9 L1105.6,329.7 L1106.4,330.5 L1107.3,330.1 L1108.1,329.1 L1109.0,330.9 L1109.9,331.7 L1110.7,330.3 L1111.6,330.2 L1112.4,330.4 L1113.3,330.1 L1114.1,329.1 L1115.0,330.1 L1115.9,331.4 L1116.7,331.4 L1117.6,331.8 L1118.4,329.7 L1119.3,328.4 L1120.1,329.2 L1121.0,330.0 L1121.9,330.3 L1122.7,329.0 L1123.6,329.5 L1124.4,330.0 L1125.3,328.7 L1126.1,329.9 L1127.0,330.5 L1127.9,330.5 L1128.7,330.8 L1129.6,329.8 L1130.4,329.7 L1131.3,329.2 L1132.1,328.9 L1133.0,331.2 L1133.8,331.3 L1134.7,330.6 L1135.6,333.0 L1136.4,332.5 L1137.3,331.1 L1138.1,329.5 L1139.0,328.4 L1139.8,329.0 L1140.7,329.7 L1141.6,329.8 L1142.4,330.0 L1143.3,330.1 L1144.1,329.8 L1145.0,330.9 L1145.8,330.5 L1146.7,331.1 L1147.6,329.6 L1148.4,328.9 L1149.3,331.0 L1150.1,331.9 L1151.0,332.1 L1151.8,331.5 L1152.7,330.8 L1153.6,331.5 L1154.4,332.1 L1155.3,329.8 L1156.1,329.1 L1157.0,330.5 L1157.8,331.0 L1158.7,331.0 L1159.6,330.8 L1160.4,330.1 L1161.3,329.5 L1162.1,330.7 L1163.0,332.2 L1163.8,331.7 L1164.7,331.4 L1165.6,331.1 L1166.4,329.8 L1167.3,330.9 L1168.1,332.6 L1169.0,333.0 L1169.8,331.9 L1170.7,331.8 L1171.5,331.2 L1172.4,330.1 L1173.3,330.2 L1174.1,330.5 L1175.0,331.1 L1175.8,330.3 L1176.7,331.0 L1177.5,331.3 L1178.4,328.4 L1179.3,327.8 L1180.1,329.3 L1181.0,330.4 L1181.8,330.0 L1182.7,329.9 L1183.5,329.2 L1184.4,329.5 L1185.3,330.5 L1186.1,331.1 L1187.0,330.5 L1187.8,330.8 L1188.7,330.6 L1189.5,329.1 L1190.4,330.3 L1191.3,330.3 L1192.1,329.7 L1193.0,330.3 L1193.8,331.1 L1194.7,331.5 L1195.5,331.6 L1196.4,331.3 L1197.3,330.2 L1198.1,329.5 L1199.0,327.6 L1199.8,326.1 L1200.7,326.1 L1201.5,326.0 L1202.4,324.8 L1203.2,324.0 L1204.1,323.8 L1205.0,323.0 L1205.8,323.6 L1206.7,325.3 L1207.5,327.0 L1208.4,326.4 L1209.2,326.2 L1210.1,327.9 L1211.0,328.5 L1211.8,328.5 L1212.7,329.5 L1213.5,328.2 L1214.4,329.6 L1215.2,331.4 L1216.1,329.6 L1217.0,328.9 L1217.8,328.2 L1218.7,328.2 L1219.5,329.2 L1220.4,329.9 L1221.2,329.2 L1222.1,329.0 L1223.0,330.2 L1223.8,330.1 L1224.7,329.5 L1225.5,329.9 L1226.4,330.5 L1227.2,330.3 L1228.1,331.3 L1229.0,331.4 L1229.8,329.1 L1230.7,328.9 L1231.5,330.1 L1232.4,328.3 L1233.2,328.7 L1234.1,329.9 L1235.0,328.6 L1235.8,329.6 L1236.7,329.2 L1237.5,328.0 L1238.4,329.7 L1239.2,330.1 L1240.1,330.2 L1240.9,328.2 L1241.8,326.0 L1242.7,327.7 L1243.5,329.4 L1244.4,328.7 L1245.2,328.8 L1246.1,328.8 L1246.9,328.2 L1247.8,327.4 L1248.7,325.8 L1249.5,324.4 L1250.4,322.8 L1251.2,321.3 L1252.1,318.9 L1252.9,316.0 L1253.8,313.5 L1254.7,309.9 L1255.5,307.3 L1256.4,306.6 L1257.2,304.4 L1258.1,303.4 L1258.9,304.1 L1259.8,304.7 L1260.7,308.2 L1261.5,311.2 L1262.4,312.4 L1263.2,313.3 L1264.1,313.8 L1264.9,315.3 L1265.8,315.3 L1266.7,315.3 L1267.5,318.1 L1268.4,318.0 L1269.2,317.5 L1270.1,318.1 L1270.9,317.2 L1271.8,316.8 L1272.7,316.8 L1273.5,316.7 L1274.4,316.8 L1275.2,318.3 L1276.1,319.5 L1276.9,318.6 L1277.8,319.7 L1278.6,319.9 L1279.5,319.1 L1280.4,320.0 L1281.2,319.9 L1282.1,319.2 L1282.9,319.2 L1283.8,318.4 L1284.6,318.5 L1285.5,319.8 L1286.4,319.6 L1287.2,319.1 L1288.1,317.7 L1288.9,317.1 L1289.8,317.9 L1290.6,318.2 L1291.5,317.2 L1292.4,317.1 L1293.2,317.5 L1294.1,318.1 L1294.9,319.4 L1295.8,320.6 L1296.6,319.7 L1297.5,319.4 L1298.4,320.2 L1299.2,321.3 L1300.1,322.3 L1300.9,322.3 L1301.8,322.7 L1302.6,322.0 L1303.5,320.9 L1304.4,321.5 L1305.2,320.3 L1306.1,319.7 L1306.9,321.5 L1307.8,320.6 L1308.6,319.5 L1309.5,319.3 L1310.3,317.1 L1311.2,314.9 L1312.1,313.3 L1312.9,313.3 L1313.8,311.5 L1314.6,309.3 L1315.5,307.1 L1316.3,303.7 L1317.2,301.1 L1318.1,298.0 L1318.9,292.4 L1319.8,285.4 L1320.6,278.4 L1321.5,270.2 L1322.3,262.2 L1323.2,255.4 L1324.1,248.7 L1324.9,244.0 L1325.8,243.3 L1326.6,245.9 L1327.5,251.2 L1328.3,259.4 L1329.2,269.3 L1330.1,279.5 L1330.9,287.8 L1331.8,295.2 L1332.6,300.8 L1333.5,305.3 L1334.3,311.7 L1335.2,316.3 L1336.1,318.0 L1336.9,320.6 L1337.8,322.4 L1338.6,323.7 L1339.5,324.8 L1340.3,324.9 L1341.2,325.0 L1342.1,326.1 L1342.9,326.2 L1343.8,326.7 L1344.6,327.8 L1345.5,327.8 L1346.3,328.3 L1347.2,328.0 L1348.0,328.1 L1348.9,329.1 L1349.8,327.5 L1350.6,327.2 L1351.5,328.8 L1352.3,330.3 L1353.2,330.2 L1354.0,328.0 L1354.9,328.2 L1355.8,329.7 L1356.6,329.1 L1357.5,328.6 L1358.3,328.3 L1359.2,328.6 L1360.0,329.6 L1360.9,330.5 L1361.8,330.0 L1362.6,329.1 L1363.5,329.1 L1364.3,330.1 L1365.2,330.7 L1366.0,329.4 L1366.9,329.4 L1367.8,330.2 L1368.6,329.9 L1369.5,331.6 L1370.3,331.3 L1371.2,331.1 L1372.0,330.6 L1372.9,330.0 L1373.8,331.6 L1374.6,331.8 L1375.5,331.2 L1376.3,331.3 L1377.2,331.2 L1378.0,330.0 L1378.9,329.7 L1379.8,329.8 L1380.6,329.9 L1381.5,330.2 L1382.3,330.8 L1383.2,330.5 L1384.0,330.9 L1384.9,333.1 L1385.7,333.5 L1386.6,333.1 L1387.5,332.1 L1388.3,330.2 L1389.2,330.8 L1390.0,331.7 L1390.9,331.7 L1391.7,331.3 L1392.6,330.3 L1393.5,330.0 L1394.3,330.6 L1395.2,331.2 L1396.0,330.4 L1396.9,331.3 L1397.7,331.8 L1398.6,332.1 L1399.5,332.5 L1400.3,332.6 L1401.2,333.1 L1402.0,332.1 L1402.9,331.2 L1403.7,331.9 L1404.6,331.7 L1405.5,330.8 L1406.3,330.8 L1407.2,330.2 L1408.0,330.2 L1408.9,330.8 L1409.7,329.3 L1410.6,329.9 L1411.5,331.3 L1412.3,330.8 L1413.2,331.8 L1414.0,332.0 L1414.9,330.6 L1415.7,329.4 L1416.6,330.5 L1417.4,331.0 L1418.3,330.6 L1419.2,331.6 L1420.0,332.2 L1420.9,331.8 L1421.7,332.3 L1422.6,332.0 L1423.4,330.4 L1424.3,330.6 L1425.2,331.1 L1426.0,332.2 L1426.9,333.0 L1427.7,332.1 L1428.6,330.8 L1429.4,330.7 L1430.3,331.6 L1431.2,331.0 L1432.0,328.8 L1432.9,329.6 L1433.7,331.4 L1434.6,331.3 L1435.4,329.5 L1436.3,329.8 L1437.2,331.3 L1438.0,330.9 L1438.9,331.1 L1439.7,330.6 L1440.6,330.4 L1441.4,331.5 L1442.3,331.2 L1443.2,330.3 L1444.0,329.3 L1444.9,328.5 L1445.7,328.7 L1446.6,329.5 L1447.4,330.3 L1448.3,330.3 L1449.2,330.5 L1450.0,332.0 L1450.9,331.8 L1451.7,330.6 L1452.6,330.3 L1453.4,329.4 L1454.3,331.0 L1455.1,331.6 L1456.0,331.9 L1456.9,331.5 L1457.7,330.8 L1458.6,332.4 L1459.4,333.6 L1460.3,332.1 L1461.1,330.5 L1462.0,331.7 L1462.9,330.6 L1463.7,330.3 L1464.6,331.0 L1465.4,331.1 L1466.3,332.0 L1467.1,331.9 L1468.0,330.6 L1468.9,329.6 L1469.7,330.7 L1470.6,331.2 L1471.4,331.2 L1472.3,331.1 L1473.1,331.9 L1474.0,331.8 L1474.9,330.3 L1475.7,330.9 L1476.6,332.6 L1477.4,333.0 L1478.3,332.7 L1479.1,331.2 L1480.0,330.2 L1480.9,331.8 L1481.7,331.1 L1482.6,330.4 L1483.4,331.0 L1484.3,331.0 L1485.1,332.3 L1486.0,331.6 L1486.9,331.2 L1487.7,331.0 L1488.6,330.7 L1489.4,331.7 L1490.3,331.3 L1491.1,330.9 L1492.0,330.7 L1492.8,329.8 L1493.7,329.8 L1494.6,330.1 L1495.4,329.2 L1496.3,329.9 L1497.1,331.5 L1498.0,331.9 L1498.8,331.0 L1499.7,330.9 L1500.6,331.1 L1501.4,329.6 L1502.3,330.4 L1503.1,330.4 L1504.0,330.6 L1504.8,331.1 L1505.7,330.4 L1506.6,331.7 L1507.4,331.7 L1508.3,329.7 L1509.1,329.7 L1510.0,331.5 L1510.8,330.6 L1511.7,329.4 L1512.6,330.7 L1513.4,331.3 L1514.3,331.6 L1515.1,332.6 L1516.0,331.3 L1516.8,329.7 L1517.7,329.2 L1518.6,329.1 L1519.4,330.2 L1520.3,329.8 L1521.1,330.1 L1522.0,331.0 L1522.8,330.3 L1523.7,330.3 L1524.5,330.3 L1525.4,330.2 L1526.3,329.4 L1527.1,327.9 L1528.0,327.8 L1528.8,327.6 L1529.7,327.7 L1530.5,328.6 L1531.4,329.9 L1532.3,330.2 L1533.1,330.0 L1534.0,329.0 L1534.8,327.7 L1535.7,328.0 L1536.5,328.1 L1537.4,327.9 L1538.3,327.1 L1539.1,326.3 L1540.0,325.4 L1540.8,325.2 L1541.7,325.1 L1542.5,322.3 L1543.4,322.3 L1544.3,322.4 L1545.1,320.5 L1546.0,318.6 L1546.8,316.0 L1547.7,314.9 L1548.5,314.1 L1549.4,312.6 L1550.3,309.8 L1551.1,308.6 L1552.0,308.1 L1552.8,306.4 L1553.7,306.2 L1554.5,307.5 L1555.4,306.5 L1556.3,305.3 L1557.1,306.3 L1558.0,306.8 L1558.8,309.4 L1559.7,312.7 L1560.5,313.4 L1561.4,316.1 L1562.2,318.1 L1563.1,316.6 L1564.0,316.9 L1564.8,320.2 L1565.7,321.1 L1566.5,320.6 L1567.4,322.8 L1568.2,325.0 L1569.1,325.4 L1570.0,324.9 L1570.8,325.8 L1571.7,328.0 L1572.5,328.1 L1573.4,327.5 L1574.2,328.8 L1575.1,330.2 L1576.0,330.0 L1576.8,328.7 L1577.7,329.0 L1578.5,329.5 L1579.4,328.7 L1580.2,329.1 L1581.1,329.8 L1582.0,329.6 L1582.8,328.8 L1583.7,328.8 L1584.5,327.4 L1585.4,326.2 L1586.2,326.2 L1587.1,326.4 L1588.0,327.3 L1588.8,327.1 L1589.7,326.7 L1590.5,325.3 L1591.4,323.8 L1592.2,323.4 L1593.1,323.6 L1594.0,326.0 L1594.8,327.2 L1595.7,326.0 L1596.5,325.8 L1597.4,326.8 L1598.2,327.4 L1599.1,327.7 L1599.9,328.3 L1600.8,328.1 L1601.7,329.0 L1602.5,330.0 L1603.4,329.4 L1604.2,329.0 L1605.1,329.4 L1605.9,329.0 L1606.8,329.5 L1607.7,329.9 L1608.5,329.2 L1609.4,329.7 L1610.2,330.6 L1611.1,329.5 L1611.9,329.4 L1612.8,329.6 L1613.7,329.9 L1614.5,330.6 L1615.4,330.6 L1616.2,330.9 L1617.1,329.1 L1617.9,327.9 L1618.8,328.5 L1619.7,327.4 L1620.5,326.3 L1621.4,326.1 L1622.2,325.2 L1623.1,323.7 L1623.9,323.5 L1624.8,323.5 L1625.7,321.2 L1626.5,318.2 L1627.4,315.5 L1628.2,313.6 L1629.1,310.8 L1629.9,307.6 L1630.8,305.6 L1631.6,304.0 L1632.5,301.9 L1633.4,301.5 L1634.2,303.6 L1635.1,305.4 L1635.9,305.7 L1636.8,307.5 L1637.6,310.5 L1638.5,312.6 L1639.4,315.1 L1640.2,318.3 L1641.1,320.5 L1641.9,321.2 L1642.8,323.1 L1643.6,325.1 L1644.5,325.5 L1645.4,326.9 L1646.2,327.7 L1647.1,327.3 L1647.9,327.3 L1648.8,328.7 L1649.6,327.9 L1650.5,327.9 L1651.4,328.5 L1652.2,328.2 L1653.1,329.0 L1653.9,328.5 L1654.8,327.0 L1655.6,327.4 L1656.5,328.9 L1657.4,329.5 L1658.2,329.9 L1659.1,331.1 L1659.9,330.6 L1660.8,330.3 L1661.6,332.3 L1662.5,331.6 L1663.4,330.2 L1664.2,331.3 L1665.1,330.5 L1665.9,329.3 L1666.8,329.5 L1667.6,330.2 L1668.5,331.1 L1669.3,330.7 L1670.2,329.9 L1671.1,330.1 L1671.9,329.8 L1672.8,330.2 L1673.6,331.5 L1674.5,331.4 L1675.3,331.9 L1676.2,332.4 L1677.1,332.9 L1677.9,332.4 L1678.8,331.3 L1679.6,330.0 L1680.5,330.2 L1681.3,332.5 L1682.2,331.9 L1683.1,331.5 L1683.9,331.7" fill="none" stroke="#00ff00" stroke-width="3.9" stroke-linejoin="round" stroke-linecap="round" clip-path="url(#plotclip)"/>
<g stroke="#000" stroke-width="3.8" fill="none" stroke-linecap="butt">
<path d="M113.2,52.5 V1259.3 H1684.2" stroke-linecap="round" stroke-linejoin="round"/>
<path d="M93.4,52.5 H113.2" stroke-linecap="round"/>
<path d="M103.4,136.3 H113.2" stroke-linecap="round"/>
<path d="M93.4,220.1 H113.2" stroke-linecap="round"/>
<path d="M103.4,303.9 H113.2" stroke-linecap="round"/>
<path d="M93.4,387.7 H113.2" stroke-linecap="round"/>
<path d="M103.4,471.5 H113.2" stroke-linecap="round"/>
<path d="M93.4,555.3 H113.2" stroke-linecap="round"/>
<path d="M103.4,639.1 H113.2" stroke-linecap="round"/>
<path d="M93.4,722.9 H113.2" stroke-linecap="round"/>
<path d="M103.4,806.7 H113.2" stroke-linecap="round"/>
<path d="M93.4,890.5 H113.2" stroke-linecap="round"/>
<path d="M103.4,974.3 H113.2" stroke-linecap="round"/>
<path d="M93.4,1058.1 H113.2" stroke-linecap="round"/>
<path d="M103.4,1141.9 H113.2" stroke-linecap="round"/>
<path d="M93.4,1225.7 H113.2" stroke-linecap="round"/>
<path d="M113.4,1259.3 V1269.1" stroke-linecap="round"/>
<path d="M256.2,1259.3 V1279.1" stroke-linecap="round"/>
<path d="M399.0,1259.3 V1269.1" stroke-linecap="round"/>
<path d="M541.8,1259.3 V1279.1" stroke-linecap="round"/>
<path d="M684.6,1259.3 V1269.1" stroke-linecap="round"/>
<path d="M827.4,1259.3 V1279.1" stroke-linecap="round"/>
<path d="M970.2,1259.3 V1269.1" stroke-linecap="round"/>
<path d="M1113.0,1259.3 V1279.1" stroke-linecap="round"/>
<path d="M1255.8,1259.3 V1269.1" stroke-linecap="round"/>
<path d="M1398.6,1259.3 V1279.1" stroke-linecap="round"/>
<path d="M1541.4,1259.3 V1269.1" stroke-linecap="round"/>
<path d="M1684.2,1259.3 V1279.1" stroke-linecap="round"/>
</g>
<text transform="translate(223.98,1338.20) scale(1,1.035)" font-size="57">20</text>
<text transform="translate(509.93,1338.20) scale(1,1.035)" font-size="57">30</text>
<text transform="translate(795.96,1338.20) scale(1,1.035)" font-size="57">40</text>
<text transform="translate(1081.07,1338.20) scale(1,1.035)" font-size="57">50</text>
<text transform="translate(1366.37,1338.20) scale(1,1.035)" font-size="57">60</text>
<text transform="translate(1651.95,1338.20) scale(1,1.035)" font-size="57">70</text>
<text x="788.36" y="1406.30" font-size="52.5">2 Theta (</text>
<text x="998.04" y="1380.70" font-size="30">o</text>
<text x="1018.09" y="1406.30" font-size="52.5">)</text>
<path d="M1015.4,1415.4 H1033.2" stroke="#000" stroke-width="3.2"/>
<text transform="translate(56.6,819.3) rotate(-90)" font-size="57.5">Intensity, a.u.</text>
<text transform="translate(122.89,301.10) scale(1,1.04)" font-size="52.6">MA-4</text>
<text transform="translate(134.99,465.70) scale(1,1.04)" font-size="52.6">MA-3</text>
<text transform="translate(133.59,803.80) scale(1,1.04)" font-size="52.6">MA-2</text>
<text transform="translate(142.99,1177.50) scale(1,1.04)" font-size="52.6">MA-1</text>
<text x="750.94" y="82.50" font-size="47.5" font-weight="bold">o</text>
<text transform="translate(793.41,82.00) scale(1,1.06)" font-size="47">-</text>
<text transform="translate(822.90,82.00) scale(0.9822,1.06)" font-size="47">Sr</text>
<text x="870.74" y="97.90" font-size="29">2</text>
<text transform="translate(887.03,82.00) scale(1.0179,1.06)" font-size="47">TiO</text>
<text x="962.73" y="97.90" font-size="29">4</text>
<text transform="translate(978.18,82.00) scale(1,1.06)" font-size="47">;</text>
<path d="M1002.6,42.3 V68.6" stroke="#000" stroke-width="1.4" fill="none"/><path d="M996.0,66.6 L1009.2,66.6 L1002.6,91.8 Z" fill="#000"/>
<text transform="translate(1019.51,82.00) scale(1,1.06)" font-size="47">-</text>
<text transform="translate(1047.53,82.00) scale(1.0185,1.06)" font-size="47">Sr</text>
<text x="1096.03" y="97.90" font-size="29">4</text>
<text transform="translate(1112.12,82.00) scale(1.0221,1.06)" font-size="47">Ti</text>
<text x="1152.50" y="97.90" font-size="29">3</text>
<text transform="translate(1167.59,82.00) scale(1.0379,1.06)" font-size="47">O</text>
<text x="1206.09" y="97.90" font-size="29">10</text>
<text transform="translate(1235.48,82.00) scale(1,1.06)" font-size="47">;</text>
<text x="1262.86" y="82.00" font-size="51">*</text>
<text x="1297.23" y="82.00" font-size="51">-</text>
<text transform="translate(1330.18,82.00) scale(1.0037,1.0)" font-size="51">SrCO</text>
<text x="1460.58" y="97.90" font-size="29.5">3</text>
<text x="1476.52" y="82.00" font-size="51">;</text>
<text x="1506.33" y="82.00" font-size="51">^</text>
<text x="1544.43" y="82.00" font-size="51">-</text>
<text transform="translate(1575.72,82.00) scale(1.0296,1.0)" font-size="51">SrTiO</text>
<text x="1712.28" y="97.90" font-size="29.5">3</text>
<text x="1730.72" y="82.00" font-size="51">,</text>
<text x="601.11" y="45.79" font-size="43.5" font-weight="bold">o</text>
<text x="570.31" y="102.39" font-size="43.5" font-weight="bold">o</text>
<text x="360.01" y="300.19" font-size="43.5" font-weight="bold">o</text>
<text x="482.01" y="305.79" font-size="43.5" font-weight="bold">o</text>
<text x="687.81" y="306.29" font-size="43.5" font-weight="bold">o</text>
<text x="896.11" y="288.69" font-size="43.5" font-weight="bold">o</text>
<text x="925.31" y="262.29" font-size="43.5" font-weight="bold">o</text>
<text x="1008.01" y="193.09" font-size="43.5" font-weight="bold">o</text>
<text x="1245.11" y="296.19" font-size="43.5" font-weight="bold">o</text>
<text x="1312.01" y="237.99" font-size="43.5" font-weight="bold">o</text>
<text x="1540.31" y="293.09" font-size="43.5" font-weight="bold">o</text>
<text x="1620.01" y="289.19" font-size="43.5" font-weight="bold">o</text>
<text transform="translate(575.50,60.99) scale(1,1.16)" font-size="43.5" font-weight="bold">^</text>
<text transform="translate(1290.90,262.29) scale(1,1.16)" font-size="43.5" font-weight="bold">^</text>
<path d="M598.5,194.7 V221.20000000000002" stroke="#000" stroke-width="1.4" fill="none"/><path d="M591.9,219.20000000000002 L605.1,219.20000000000002 L598.5,244.8 Z" fill="#000"/>
<text x="563.91" y="375.79" font-size="43.5" font-weight="bold">o</text>
<text x="620.31" y="385.89" font-size="43.5" font-weight="bold">o</text>
<text x="359.91" y="474.89" font-size="43.5" font-weight="bold">o</text>
<text x="699.01" y="491.09" font-size="43.5" font-weight="bold">o</text>
<text x="897.21" y="484.09" font-size="43.5" font-weight="bold">o</text>
<text x="930.31" y="466.89" font-size="43.5" font-weight="bold">o</text>
<text x="1034.21" y="454.79" font-size="43.5" font-weight="bold">o</text>
<text x="1243.11" y="485.69" font-size="43.5" font-weight="bold">o</text>
<text x="1332.31" y="454.59" font-size="43.5" font-weight="bold">o</text>
<text x="1543.31" y="485.79" font-size="43.5" font-weight="bold">o</text>
<text x="1615.21" y="475.59" font-size="43.5" font-weight="bold">o</text>
<text transform="translate(598.90,391.09) scale(1,1.16)" font-size="43.5" font-weight="bold">^</text>
<text transform="translate(813.10,482.39) scale(1,1.16)" font-size="43.5" font-weight="bold">^</text>
<text transform="translate(1001.80,458.39) scale(1,1.16)" font-size="43.5" font-weight="bold">^</text>
<text transform="translate(1307.80,467.39) scale(1,1.16)" font-size="43.5" font-weight="bold">^</text>
<path d="M600.2,389.1 V415.7" stroke="#000" stroke-width="1.4" fill="none"/><path d="M593.4000000000001,413.7 L607.0,413.7 L600.2,439.2 Z" fill="#000"/>
<text x="569.01" y="553.39" font-size="43.5" font-weight="bold">o</text>
<text x="606.41" y="557.09" font-size="43.5" font-weight="bold">o</text>
<text x="357.71" y="817.59" font-size="43.5" font-weight="bold">o</text>
<text x="474.71" y="820.09" font-size="43.5" font-weight="bold">o</text>
<text x="691.01" y="831.29" font-size="43.5" font-weight="bold">o</text>
<text x="883.11" y="835.99" font-size="43.5" font-weight="bold">o</text>
<text x="902.81" y="818.19" font-size="43.5" font-weight="bold">o</text>
<text x="921.11" y="766.79" font-size="43.5" font-weight="bold">o</text>
<text x="1014.21" y="720.09" font-size="43.5" font-weight="bold">o</text>
<text x="1194.11" y="842.19" font-size="43.5" font-weight="bold">o</text>
<text x="1241.11" y="818.19" font-size="43.5" font-weight="bold">o</text>
<text x="1272.11" y="835.69" font-size="43.5" font-weight="bold">o</text>
<text x="1313.81" y="740.09" font-size="43.5" font-weight="bold">o</text>
<text x="1547.21" y="821.89" font-size="43.5" font-weight="bold">o</text>
<text x="1617.91" y="814.69" font-size="43.5" font-weight="bold">o</text>
<text transform="translate(632.00,566.19) scale(1,1.16)" font-size="43.5" font-weight="bold">^</text>
<text transform="translate(812.70,860.19) scale(1,1.16)" font-size="43.5" font-weight="bold">^</text>
<text x="395.58" y="866.41" font-size="73" stroke="#000" stroke-width="1.1">*</text>
<text x="606.31" y="887.59" font-size="43.5" font-weight="bold">o</text>
<text x="572.11" y="1097.99" font-size="43.5" font-weight="bold">o</text>
<text x="677.01" y="1210.29" font-size="43.5" font-weight="bold">o</text>
<text x="937.01" y="1165.99" font-size="43.5" font-weight="bold">o</text>
<text x="1017.21" y="1100.49" font-size="43.5" font-weight="bold">o</text>
<text x="1347.31" y="1134.79" font-size="43.5" font-weight="bold">o</text>
<text x="1607.11" y="1187.29" font-size="43.5" font-weight="bold">o</text>
<text transform="translate(580.60,898.69) scale(1,1.16)" font-size="43.5" font-weight="bold">^</text>
<text transform="translate(817.70,1176.79) scale(1,1.16)" font-size="43.5" font-weight="bold">^</text>
<text transform="translate(992.90,1111.39) scale(1,1.16)" font-size="43.5" font-weight="bold">^</text>
<text transform="translate(1318.50,1142.89) scale(1,1.16)" font-size="43.5" font-weight="bold">^</text>
<text x="395.38" y="1027.71" font-size="73" stroke="#000" stroke-width="1.1">*</text>
<text x="415.38" y="1154.41" font-size="73" stroke="#000" stroke-width="1.1">*</text>
<text x="719.68" y="1197.41" font-size="73" stroke="#000" stroke-width="1.1">*</text>
<text x="970.28" y="1225.21" font-size="73" stroke="#000" stroke-width="1.1">*</text>
<text x="1038.38" y="1225.21" font-size="73" stroke="#000" stroke-width="1.1">*</text>
<text x="1099.98" y="1241.21" font-size="73" stroke="#000" stroke-width="1.1">*</text>
<path d="M602.3,1085.3 V1111.8" stroke="#000" stroke-width="1.4" fill="none"/><path d="M595.6999999999999,1109.8 L608.9,1109.8 L602.3,1135.8 Z" fill="#000"/>
</svg>
</body></html>
